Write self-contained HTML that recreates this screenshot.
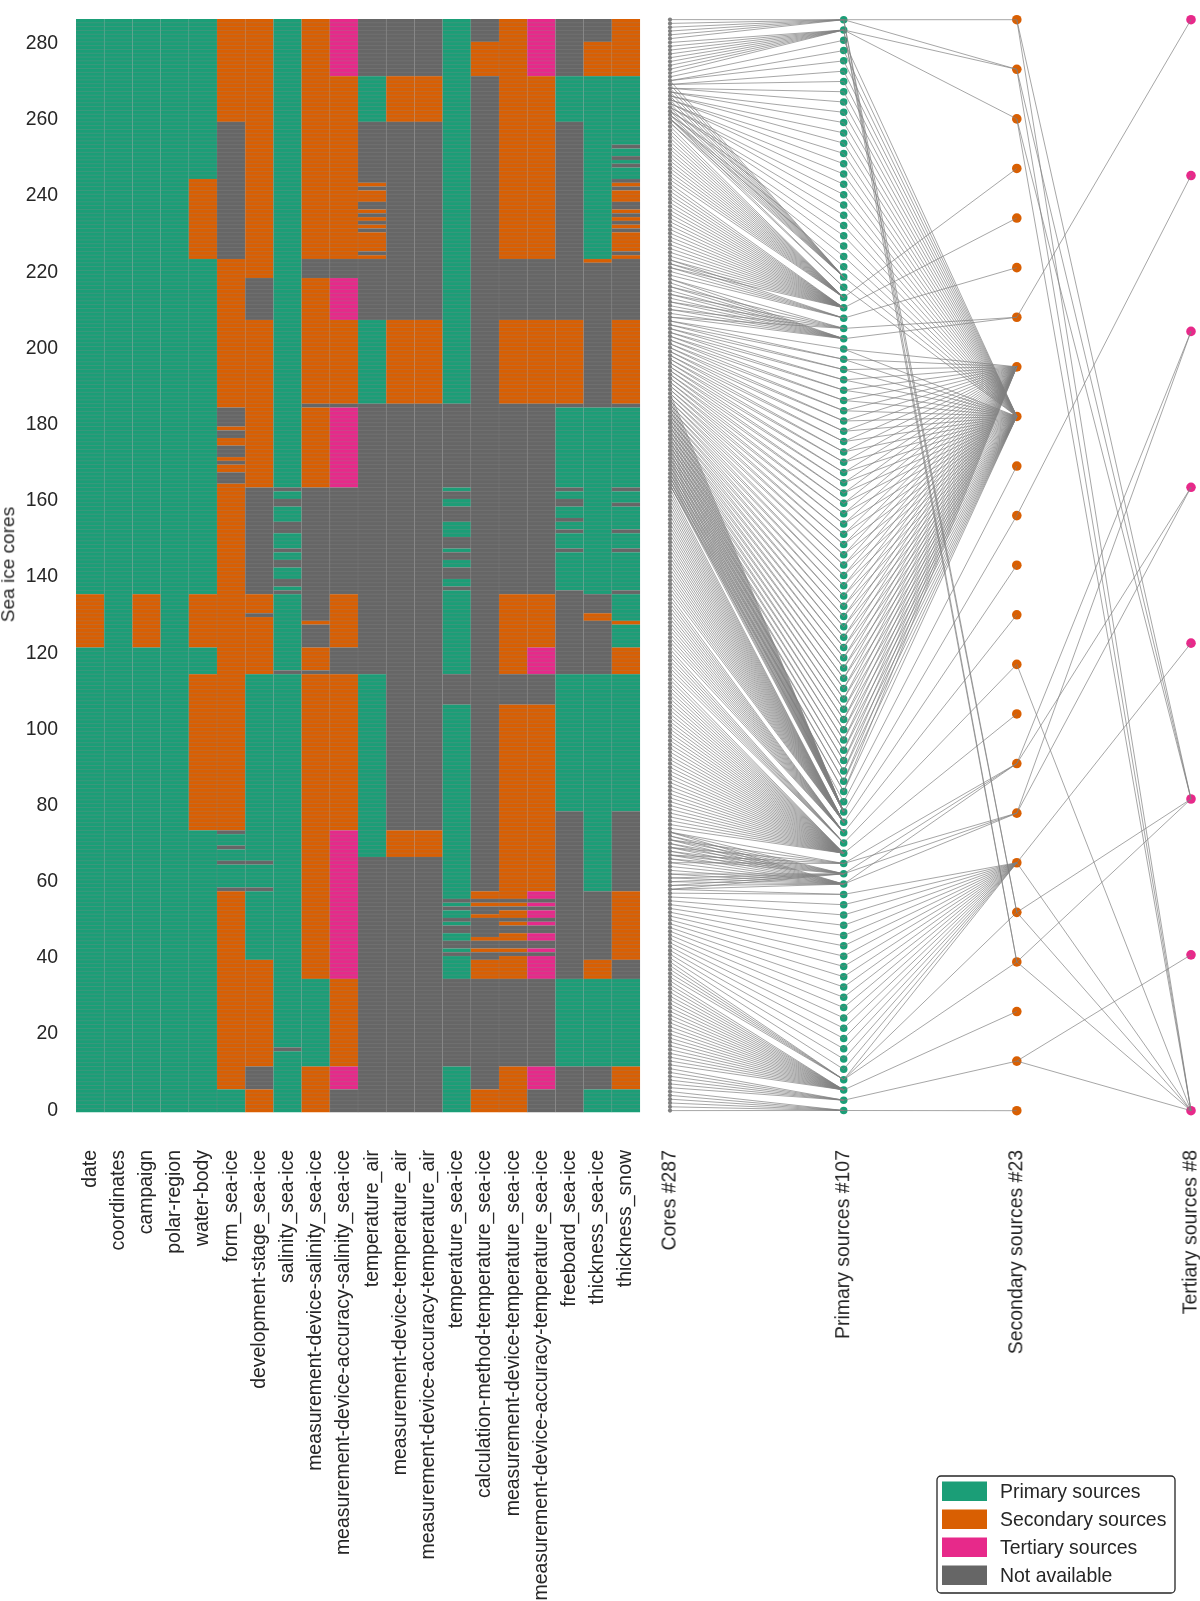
<!DOCTYPE html>
<html><head><meta charset="utf-8"><title>Sea ice cores sources</title>
<style>
html,body{margin:0;padding:0;background:#fff;}
svg{display:block;}
text{font-family:"Liberation Sans",sans-serif;fill:#262626;}
</style></head><body>
<svg width="1200" height="1601" viewBox="0 0 1200 1601">
<rect width="1200" height="1601" fill="#fff"/>
<g>
<rect x="76" y="19" width="28.25" height="575.22" fill="#1b9e77"/>
<rect x="76" y="594.17" width="28.25" height="53.38" fill="#d95f02"/>
<rect x="76" y="647.49" width="28.25" height="464.76" fill="#1b9e77"/>
<rect x="104.2" y="19" width="28.25" height="1093.25" fill="#1b9e77"/>
<rect x="132.4" y="19" width="28.25" height="575.22" fill="#1b9e77"/>
<rect x="132.4" y="594.17" width="28.25" height="53.38" fill="#d95f02"/>
<rect x="132.4" y="647.49" width="28.25" height="464.76" fill="#1b9e77"/>
<rect x="160.6" y="19" width="28.25" height="1093.25" fill="#1b9e77"/>
<rect x="188.8" y="19" width="28.25" height="160.03" fill="#1b9e77"/>
<rect x="188.8" y="178.98" width="28.25" height="80.04" fill="#d95f02"/>
<rect x="188.8" y="258.97" width="28.25" height="335.25" fill="#1b9e77"/>
<rect x="188.8" y="594.17" width="28.25" height="53.38" fill="#d95f02"/>
<rect x="188.8" y="647.49" width="28.25" height="26.71" fill="#1b9e77"/>
<rect x="188.8" y="674.16" width="28.25" height="156.22" fill="#d95f02"/>
<rect x="188.8" y="830.33" width="28.25" height="281.92" fill="#1b9e77"/>
<rect x="217" y="19" width="28.25" height="102.89" fill="#d95f02"/>
<rect x="217" y="121.84" width="28.25" height="137.18" fill="#666666"/>
<rect x="217" y="258.97" width="28.25" height="148.6" fill="#d95f02"/>
<rect x="217" y="407.52" width="28.25" height="19.1" fill="#666666"/>
<rect x="217" y="426.57" width="28.25" height="3.86" fill="#d95f02"/>
<rect x="217" y="430.38" width="28.25" height="7.67" fill="#666666"/>
<rect x="217" y="438" width="28.25" height="7.67" fill="#d95f02"/>
<rect x="217" y="445.61" width="28.25" height="11.48" fill="#666666"/>
<rect x="217" y="457.04" width="28.25" height="3.86" fill="#d95f02"/>
<rect x="217" y="460.85" width="28.25" height="3.86" fill="#666666"/>
<rect x="217" y="464.66" width="28.25" height="7.67" fill="#d95f02"/>
<rect x="217" y="472.28" width="28.25" height="11.48" fill="#666666"/>
<rect x="217" y="483.71" width="28.25" height="346.67" fill="#d95f02"/>
<rect x="217" y="830.33" width="28.25" height="3.86" fill="#666666"/>
<rect x="217" y="834.14" width="28.25" height="11.48" fill="#1b9e77"/>
<rect x="217" y="845.57" width="28.25" height="3.86" fill="#666666"/>
<rect x="217" y="849.37" width="28.25" height="11.48" fill="#1b9e77"/>
<rect x="217" y="860.8" width="28.25" height="3.86" fill="#666666"/>
<rect x="217" y="864.61" width="28.25" height="22.9" fill="#1b9e77"/>
<rect x="217" y="887.47" width="28.25" height="3.86" fill="#666666"/>
<rect x="217" y="891.27" width="28.25" height="198.12" fill="#d95f02"/>
<rect x="217" y="1089.35" width="28.25" height="22.9" fill="#1b9e77"/>
<rect x="245.2" y="19" width="28.25" height="259.07" fill="#d95f02"/>
<rect x="245.2" y="278.02" width="28.25" height="41.95" fill="#666666"/>
<rect x="245.2" y="319.92" width="28.25" height="167.65" fill="#d95f02"/>
<rect x="245.2" y="487.51" width="28.25" height="106.7" fill="#666666"/>
<rect x="245.2" y="594.17" width="28.25" height="19.1" fill="#d95f02"/>
<rect x="245.2" y="613.21" width="28.25" height="3.86" fill="#666666"/>
<rect x="245.2" y="617.02" width="28.25" height="57.19" fill="#d95f02"/>
<rect x="245.2" y="674.16" width="28.25" height="186.69" fill="#1b9e77"/>
<rect x="245.2" y="860.8" width="28.25" height="3.86" fill="#666666"/>
<rect x="245.2" y="864.61" width="28.25" height="22.9" fill="#1b9e77"/>
<rect x="245.2" y="887.47" width="28.25" height="3.86" fill="#666666"/>
<rect x="245.2" y="891.27" width="28.25" height="68.61" fill="#1b9e77"/>
<rect x="245.2" y="959.84" width="28.25" height="106.7" fill="#d95f02"/>
<rect x="245.2" y="1066.49" width="28.25" height="22.9" fill="#666666"/>
<rect x="245.2" y="1089.35" width="28.25" height="22.9" fill="#d95f02"/>
<rect x="273.4" y="19" width="28.25" height="468.56" fill="#1b9e77"/>
<rect x="273.4" y="487.51" width="28.25" height="3.86" fill="#666666"/>
<rect x="273.4" y="491.32" width="28.25" height="7.67" fill="#1b9e77"/>
<rect x="273.4" y="498.94" width="28.25" height="7.67" fill="#666666"/>
<rect x="273.4" y="506.56" width="28.25" height="15.29" fill="#1b9e77"/>
<rect x="273.4" y="521.8" width="28.25" height="11.48" fill="#666666"/>
<rect x="273.4" y="533.22" width="28.25" height="15.29" fill="#1b9e77"/>
<rect x="273.4" y="548.46" width="28.25" height="3.86" fill="#666666"/>
<rect x="273.4" y="552.27" width="28.25" height="7.67" fill="#1b9e77"/>
<rect x="273.4" y="559.89" width="28.25" height="7.67" fill="#666666"/>
<rect x="273.4" y="567.5" width="28.25" height="11.48" fill="#1b9e77"/>
<rect x="273.4" y="578.93" width="28.25" height="7.67" fill="#666666"/>
<rect x="273.4" y="586.55" width="28.25" height="3.86" fill="#1b9e77"/>
<rect x="273.4" y="590.36" width="28.25" height="3.86" fill="#666666"/>
<rect x="273.4" y="594.17" width="28.25" height="76.23" fill="#1b9e77"/>
<rect x="273.4" y="670.35" width="28.25" height="3.86" fill="#666666"/>
<rect x="273.4" y="674.16" width="28.25" height="373.34" fill="#1b9e77"/>
<rect x="273.4" y="1047.45" width="28.25" height="3.86" fill="#666666"/>
<rect x="273.4" y="1051.26" width="28.25" height="60.99" fill="#1b9e77"/>
<rect x="301.6" y="19" width="28.25" height="240.02" fill="#d95f02"/>
<rect x="301.6" y="258.97" width="28.25" height="19.1" fill="#666666"/>
<rect x="301.6" y="278.02" width="28.25" height="125.75" fill="#d95f02"/>
<rect x="301.6" y="403.71" width="28.25" height="3.86" fill="#666666"/>
<rect x="301.6" y="407.52" width="28.25" height="80.04" fill="#d95f02"/>
<rect x="301.6" y="487.51" width="28.25" height="133.37" fill="#666666"/>
<rect x="301.6" y="620.83" width="28.25" height="3.86" fill="#d95f02"/>
<rect x="301.6" y="624.64" width="28.25" height="22.9" fill="#666666"/>
<rect x="301.6" y="647.49" width="28.25" height="22.9" fill="#d95f02"/>
<rect x="301.6" y="670.35" width="28.25" height="3.86" fill="#666666"/>
<rect x="301.6" y="674.16" width="28.25" height="304.77" fill="#d95f02"/>
<rect x="301.6" y="978.88" width="28.25" height="87.66" fill="#1b9e77"/>
<rect x="301.6" y="1066.49" width="28.25" height="45.76" fill="#d95f02"/>
<rect x="329.8" y="19" width="28.25" height="57.19" fill="#e7298a"/>
<rect x="329.8" y="76.14" width="28.25" height="182.88" fill="#d95f02"/>
<rect x="329.8" y="258.97" width="28.25" height="19.1" fill="#666666"/>
<rect x="329.8" y="278.02" width="28.25" height="41.95" fill="#e7298a"/>
<rect x="329.8" y="319.92" width="28.25" height="83.85" fill="#d95f02"/>
<rect x="329.8" y="403.71" width="28.25" height="3.86" fill="#666666"/>
<rect x="329.8" y="407.52" width="28.25" height="80.04" fill="#e7298a"/>
<rect x="329.8" y="487.51" width="28.25" height="106.7" fill="#666666"/>
<rect x="329.8" y="594.17" width="28.25" height="53.38" fill="#d95f02"/>
<rect x="329.8" y="647.49" width="28.25" height="26.71" fill="#666666"/>
<rect x="329.8" y="674.16" width="28.25" height="156.22" fill="#d95f02"/>
<rect x="329.8" y="830.33" width="28.25" height="148.6" fill="#e7298a"/>
<rect x="329.8" y="978.88" width="28.25" height="87.66" fill="#d95f02"/>
<rect x="329.8" y="1066.49" width="28.25" height="22.9" fill="#e7298a"/>
<rect x="329.8" y="1089.35" width="28.25" height="22.9" fill="#666666"/>
<rect x="358" y="19" width="28.25" height="57.19" fill="#666666"/>
<rect x="358" y="76.14" width="28.25" height="45.76" fill="#1b9e77"/>
<rect x="358" y="121.84" width="28.25" height="60.99" fill="#666666"/>
<rect x="358" y="182.79" width="28.25" height="3.86" fill="#d95f02"/>
<rect x="358" y="186.6" width="28.25" height="3.86" fill="#666666"/>
<rect x="358" y="190.41" width="28.25" height="11.48" fill="#d95f02"/>
<rect x="358" y="201.83" width="28.25" height="7.67" fill="#666666"/>
<rect x="358" y="209.45" width="28.25" height="3.86" fill="#d95f02"/>
<rect x="358" y="213.26" width="28.25" height="3.86" fill="#666666"/>
<rect x="358" y="217.07" width="28.25" height="3.86" fill="#d95f02"/>
<rect x="358" y="220.88" width="28.25" height="3.86" fill="#666666"/>
<rect x="358" y="224.69" width="28.25" height="3.86" fill="#d95f02"/>
<rect x="358" y="228.5" width="28.25" height="3.86" fill="#666666"/>
<rect x="358" y="232.31" width="28.25" height="19.1" fill="#d95f02"/>
<rect x="358" y="251.35" width="28.25" height="3.86" fill="#666666"/>
<rect x="358" y="255.16" width="28.25" height="3.86" fill="#d95f02"/>
<rect x="358" y="258.97" width="28.25" height="60.99" fill="#666666"/>
<rect x="358" y="319.92" width="28.25" height="83.85" fill="#1b9e77"/>
<rect x="358" y="403.71" width="28.25" height="270.49" fill="#666666"/>
<rect x="358" y="674.16" width="28.25" height="182.88" fill="#1b9e77"/>
<rect x="358" y="856.99" width="28.25" height="255.26" fill="#666666"/>
<rect x="386.2" y="19" width="28.25" height="57.19" fill="#666666"/>
<rect x="386.2" y="76.14" width="28.25" height="45.76" fill="#d95f02"/>
<rect x="386.2" y="121.84" width="28.25" height="198.12" fill="#666666"/>
<rect x="386.2" y="319.92" width="28.25" height="83.85" fill="#d95f02"/>
<rect x="386.2" y="403.71" width="28.25" height="426.66" fill="#666666"/>
<rect x="386.2" y="830.33" width="28.25" height="26.71" fill="#d95f02"/>
<rect x="386.2" y="856.99" width="28.25" height="255.26" fill="#666666"/>
<rect x="414.4" y="19" width="28.25" height="57.19" fill="#666666"/>
<rect x="414.4" y="76.14" width="28.25" height="45.76" fill="#d95f02"/>
<rect x="414.4" y="121.84" width="28.25" height="198.12" fill="#666666"/>
<rect x="414.4" y="319.92" width="28.25" height="83.85" fill="#d95f02"/>
<rect x="414.4" y="403.71" width="28.25" height="426.66" fill="#666666"/>
<rect x="414.4" y="830.33" width="28.25" height="26.71" fill="#d95f02"/>
<rect x="414.4" y="856.99" width="28.25" height="255.26" fill="#666666"/>
<rect x="442.6" y="19" width="28.25" height="384.76" fill="#1b9e77"/>
<rect x="442.6" y="403.71" width="28.25" height="83.85" fill="#666666"/>
<rect x="442.6" y="487.51" width="28.25" height="3.86" fill="#1b9e77"/>
<rect x="442.6" y="491.32" width="28.25" height="7.67" fill="#666666"/>
<rect x="442.6" y="498.94" width="28.25" height="7.67" fill="#1b9e77"/>
<rect x="442.6" y="506.56" width="28.25" height="15.29" fill="#666666"/>
<rect x="442.6" y="521.8" width="28.25" height="15.29" fill="#1b9e77"/>
<rect x="442.6" y="537.03" width="28.25" height="11.48" fill="#666666"/>
<rect x="442.6" y="548.46" width="28.25" height="3.86" fill="#1b9e77"/>
<rect x="442.6" y="552.27" width="28.25" height="7.67" fill="#666666"/>
<rect x="442.6" y="559.89" width="28.25" height="7.67" fill="#1b9e77"/>
<rect x="442.6" y="567.5" width="28.25" height="11.48" fill="#666666"/>
<rect x="442.6" y="578.93" width="28.25" height="7.67" fill="#1b9e77"/>
<rect x="442.6" y="586.55" width="28.25" height="3.86" fill="#666666"/>
<rect x="442.6" y="590.36" width="28.25" height="83.85" fill="#1b9e77"/>
<rect x="442.6" y="674.16" width="28.25" height="30.52" fill="#666666"/>
<rect x="442.6" y="704.63" width="28.25" height="194.31" fill="#1b9e77"/>
<rect x="442.6" y="898.89" width="28.25" height="3.86" fill="#666666"/>
<rect x="442.6" y="902.7" width="28.25" height="3.86" fill="#1b9e77"/>
<rect x="442.6" y="906.51" width="28.25" height="3.86" fill="#666666"/>
<rect x="442.6" y="910.32" width="28.25" height="7.67" fill="#1b9e77"/>
<rect x="442.6" y="917.94" width="28.25" height="3.86" fill="#666666"/>
<rect x="442.6" y="921.75" width="28.25" height="3.86" fill="#1b9e77"/>
<rect x="442.6" y="925.56" width="28.25" height="7.67" fill="#666666"/>
<rect x="442.6" y="933.17" width="28.25" height="7.67" fill="#1b9e77"/>
<rect x="442.6" y="940.79" width="28.25" height="7.67" fill="#666666"/>
<rect x="442.6" y="948.41" width="28.25" height="3.86" fill="#1b9e77"/>
<rect x="442.6" y="952.22" width="28.25" height="3.86" fill="#666666"/>
<rect x="442.6" y="956.03" width="28.25" height="22.9" fill="#1b9e77"/>
<rect x="442.6" y="978.88" width="28.25" height="87.66" fill="#666666"/>
<rect x="442.6" y="1066.49" width="28.25" height="45.76" fill="#1b9e77"/>
<rect x="470.8" y="19" width="28.25" height="22.9" fill="#666666"/>
<rect x="470.8" y="41.85" width="28.25" height="34.33" fill="#d95f02"/>
<rect x="470.8" y="76.14" width="28.25" height="815.19" fill="#666666"/>
<rect x="470.8" y="891.27" width="28.25" height="7.67" fill="#d95f02"/>
<rect x="470.8" y="898.89" width="28.25" height="3.86" fill="#666666"/>
<rect x="470.8" y="902.7" width="28.25" height="3.86" fill="#d95f02"/>
<rect x="470.8" y="906.51" width="28.25" height="7.67" fill="#666666"/>
<rect x="470.8" y="914.13" width="28.25" height="3.86" fill="#d95f02"/>
<rect x="470.8" y="917.94" width="28.25" height="19.1" fill="#666666"/>
<rect x="470.8" y="936.98" width="28.25" height="3.86" fill="#d95f02"/>
<rect x="470.8" y="940.79" width="28.25" height="7.67" fill="#666666"/>
<rect x="470.8" y="948.41" width="28.25" height="3.86" fill="#d95f02"/>
<rect x="470.8" y="952.22" width="28.25" height="7.67" fill="#666666"/>
<rect x="470.8" y="959.84" width="28.25" height="19.1" fill="#d95f02"/>
<rect x="470.8" y="978.88" width="28.25" height="110.51" fill="#666666"/>
<rect x="470.8" y="1089.35" width="28.25" height="22.9" fill="#d95f02"/>
<rect x="499" y="19" width="28.25" height="240.02" fill="#d95f02"/>
<rect x="499" y="258.97" width="28.25" height="60.99" fill="#666666"/>
<rect x="499" y="319.92" width="28.25" height="83.85" fill="#d95f02"/>
<rect x="499" y="403.71" width="28.25" height="190.5" fill="#666666"/>
<rect x="499" y="594.17" width="28.25" height="80.04" fill="#d95f02"/>
<rect x="499" y="674.16" width="28.25" height="30.52" fill="#666666"/>
<rect x="499" y="704.63" width="28.25" height="194.31" fill="#d95f02"/>
<rect x="499" y="898.89" width="28.25" height="3.86" fill="#666666"/>
<rect x="499" y="902.7" width="28.25" height="3.86" fill="#d95f02"/>
<rect x="499" y="906.51" width="28.25" height="3.86" fill="#666666"/>
<rect x="499" y="910.32" width="28.25" height="7.67" fill="#d95f02"/>
<rect x="499" y="917.94" width="28.25" height="3.86" fill="#666666"/>
<rect x="499" y="921.75" width="28.25" height="3.86" fill="#d95f02"/>
<rect x="499" y="925.56" width="28.25" height="7.67" fill="#666666"/>
<rect x="499" y="933.17" width="28.25" height="7.67" fill="#d95f02"/>
<rect x="499" y="940.79" width="28.25" height="7.67" fill="#666666"/>
<rect x="499" y="948.41" width="28.25" height="3.86" fill="#d95f02"/>
<rect x="499" y="952.22" width="28.25" height="3.86" fill="#666666"/>
<rect x="499" y="956.03" width="28.25" height="22.9" fill="#d95f02"/>
<rect x="499" y="978.88" width="28.25" height="87.66" fill="#666666"/>
<rect x="499" y="1066.49" width="28.25" height="45.76" fill="#d95f02"/>
<rect x="527.2" y="19" width="28.25" height="57.19" fill="#e7298a"/>
<rect x="527.2" y="76.14" width="28.25" height="182.88" fill="#d95f02"/>
<rect x="527.2" y="258.97" width="28.25" height="60.99" fill="#666666"/>
<rect x="527.2" y="319.92" width="28.25" height="83.85" fill="#d95f02"/>
<rect x="527.2" y="403.71" width="28.25" height="190.5" fill="#666666"/>
<rect x="527.2" y="594.17" width="28.25" height="53.38" fill="#d95f02"/>
<rect x="527.2" y="647.49" width="28.25" height="26.71" fill="#e7298a"/>
<rect x="527.2" y="674.16" width="28.25" height="30.52" fill="#666666"/>
<rect x="527.2" y="704.63" width="28.25" height="186.69" fill="#d95f02"/>
<rect x="527.2" y="891.27" width="28.25" height="7.67" fill="#e7298a"/>
<rect x="527.2" y="898.89" width="28.25" height="3.86" fill="#666666"/>
<rect x="527.2" y="902.7" width="28.25" height="3.86" fill="#e7298a"/>
<rect x="527.2" y="906.51" width="28.25" height="3.86" fill="#666666"/>
<rect x="527.2" y="910.32" width="28.25" height="7.67" fill="#e7298a"/>
<rect x="527.2" y="917.94" width="28.25" height="3.86" fill="#666666"/>
<rect x="527.2" y="921.75" width="28.25" height="3.86" fill="#e7298a"/>
<rect x="527.2" y="925.56" width="28.25" height="7.67" fill="#666666"/>
<rect x="527.2" y="933.17" width="28.25" height="7.67" fill="#e7298a"/>
<rect x="527.2" y="940.79" width="28.25" height="7.67" fill="#666666"/>
<rect x="527.2" y="948.41" width="28.25" height="3.86" fill="#e7298a"/>
<rect x="527.2" y="952.22" width="28.25" height="3.86" fill="#666666"/>
<rect x="527.2" y="956.03" width="28.25" height="22.9" fill="#e7298a"/>
<rect x="527.2" y="978.88" width="28.25" height="87.66" fill="#666666"/>
<rect x="527.2" y="1066.49" width="28.25" height="22.9" fill="#e7298a"/>
<rect x="527.2" y="1089.35" width="28.25" height="22.9" fill="#666666"/>
<rect x="555.4" y="19" width="28.25" height="57.19" fill="#666666"/>
<rect x="555.4" y="76.14" width="28.25" height="45.76" fill="#1b9e77"/>
<rect x="555.4" y="121.84" width="28.25" height="198.12" fill="#666666"/>
<rect x="555.4" y="319.92" width="28.25" height="83.85" fill="#d95f02"/>
<rect x="555.4" y="403.71" width="28.25" height="3.86" fill="#666666"/>
<rect x="555.4" y="407.52" width="28.25" height="80.04" fill="#1b9e77"/>
<rect x="555.4" y="487.51" width="28.25" height="3.86" fill="#666666"/>
<rect x="555.4" y="491.32" width="28.25" height="7.67" fill="#1b9e77"/>
<rect x="555.4" y="498.94" width="28.25" height="7.67" fill="#666666"/>
<rect x="555.4" y="506.56" width="28.25" height="11.48" fill="#1b9e77"/>
<rect x="555.4" y="517.99" width="28.25" height="3.86" fill="#666666"/>
<rect x="555.4" y="521.8" width="28.25" height="7.67" fill="#1b9e77"/>
<rect x="555.4" y="529.41" width="28.25" height="3.86" fill="#666666"/>
<rect x="555.4" y="533.22" width="28.25" height="15.29" fill="#1b9e77"/>
<rect x="555.4" y="548.46" width="28.25" height="3.86" fill="#666666"/>
<rect x="555.4" y="552.27" width="28.25" height="38.14" fill="#1b9e77"/>
<rect x="555.4" y="590.36" width="28.25" height="83.85" fill="#666666"/>
<rect x="555.4" y="674.16" width="28.25" height="137.18" fill="#1b9e77"/>
<rect x="555.4" y="811.28" width="28.25" height="167.65" fill="#666666"/>
<rect x="555.4" y="978.88" width="28.25" height="87.66" fill="#1b9e77"/>
<rect x="555.4" y="1066.49" width="28.25" height="45.76" fill="#666666"/>
<rect x="583.6" y="19" width="28.25" height="22.9" fill="#666666"/>
<rect x="583.6" y="41.85" width="28.25" height="34.33" fill="#d95f02"/>
<rect x="583.6" y="76.14" width="28.25" height="182.88" fill="#1b9e77"/>
<rect x="583.6" y="258.97" width="28.25" height="3.86" fill="#d95f02"/>
<rect x="583.6" y="262.78" width="28.25" height="144.79" fill="#666666"/>
<rect x="583.6" y="407.52" width="28.25" height="186.69" fill="#1b9e77"/>
<rect x="583.6" y="594.17" width="28.25" height="19.1" fill="#666666"/>
<rect x="583.6" y="613.21" width="28.25" height="7.67" fill="#d95f02"/>
<rect x="583.6" y="620.83" width="28.25" height="53.38" fill="#666666"/>
<rect x="583.6" y="674.16" width="28.25" height="217.17" fill="#1b9e77"/>
<rect x="583.6" y="891.27" width="28.25" height="68.61" fill="#666666"/>
<rect x="583.6" y="959.84" width="28.25" height="19.1" fill="#d95f02"/>
<rect x="583.6" y="978.88" width="28.25" height="87.66" fill="#1b9e77"/>
<rect x="583.6" y="1066.49" width="28.25" height="22.9" fill="#666666"/>
<rect x="583.6" y="1089.35" width="28.25" height="22.9" fill="#1b9e77"/>
<rect x="611.8" y="19" width="28.25" height="57.19" fill="#d95f02"/>
<rect x="611.8" y="76.14" width="28.25" height="68.61" fill="#1b9e77"/>
<rect x="611.8" y="144.7" width="28.25" height="3.86" fill="#666666"/>
<rect x="611.8" y="148.51" width="28.25" height="7.67" fill="#1b9e77"/>
<rect x="611.8" y="156.13" width="28.25" height="3.86" fill="#666666"/>
<rect x="611.8" y="159.94" width="28.25" height="3.86" fill="#1b9e77"/>
<rect x="611.8" y="163.74" width="28.25" height="3.86" fill="#666666"/>
<rect x="611.8" y="167.55" width="28.25" height="11.48" fill="#1b9e77"/>
<rect x="611.8" y="178.98" width="28.25" height="3.86" fill="#666666"/>
<rect x="611.8" y="182.79" width="28.25" height="3.86" fill="#d95f02"/>
<rect x="611.8" y="186.6" width="28.25" height="3.86" fill="#666666"/>
<rect x="611.8" y="190.41" width="28.25" height="11.48" fill="#d95f02"/>
<rect x="611.8" y="201.83" width="28.25" height="7.67" fill="#666666"/>
<rect x="611.8" y="209.45" width="28.25" height="3.86" fill="#d95f02"/>
<rect x="611.8" y="213.26" width="28.25" height="3.86" fill="#666666"/>
<rect x="611.8" y="217.07" width="28.25" height="3.86" fill="#d95f02"/>
<rect x="611.8" y="220.88" width="28.25" height="3.86" fill="#666666"/>
<rect x="611.8" y="224.69" width="28.25" height="3.86" fill="#d95f02"/>
<rect x="611.8" y="228.5" width="28.25" height="3.86" fill="#666666"/>
<rect x="611.8" y="232.31" width="28.25" height="19.1" fill="#d95f02"/>
<rect x="611.8" y="251.35" width="28.25" height="3.86" fill="#666666"/>
<rect x="611.8" y="255.16" width="28.25" height="3.86" fill="#d95f02"/>
<rect x="611.8" y="258.97" width="28.25" height="60.99" fill="#666666"/>
<rect x="611.8" y="319.92" width="28.25" height="83.85" fill="#d95f02"/>
<rect x="611.8" y="403.71" width="28.25" height="3.86" fill="#666666"/>
<rect x="611.8" y="407.52" width="28.25" height="80.04" fill="#1b9e77"/>
<rect x="611.8" y="487.51" width="28.25" height="3.86" fill="#666666"/>
<rect x="611.8" y="491.32" width="28.25" height="11.48" fill="#1b9e77"/>
<rect x="611.8" y="502.75" width="28.25" height="3.86" fill="#666666"/>
<rect x="611.8" y="506.56" width="28.25" height="22.9" fill="#1b9e77"/>
<rect x="611.8" y="529.41" width="28.25" height="3.86" fill="#666666"/>
<rect x="611.8" y="533.22" width="28.25" height="15.29" fill="#1b9e77"/>
<rect x="611.8" y="548.46" width="28.25" height="3.86" fill="#666666"/>
<rect x="611.8" y="552.27" width="28.25" height="38.14" fill="#1b9e77"/>
<rect x="611.8" y="590.36" width="28.25" height="3.86" fill="#666666"/>
<rect x="611.8" y="594.17" width="28.25" height="26.71" fill="#1b9e77"/>
<rect x="611.8" y="620.83" width="28.25" height="3.86" fill="#d95f02"/>
<rect x="611.8" y="624.64" width="28.25" height="22.9" fill="#1b9e77"/>
<rect x="611.8" y="647.49" width="28.25" height="26.71" fill="#d95f02"/>
<rect x="611.8" y="674.16" width="28.25" height="137.18" fill="#1b9e77"/>
<rect x="611.8" y="811.28" width="28.25" height="80.04" fill="#666666"/>
<rect x="611.8" y="891.27" width="28.25" height="68.61" fill="#d95f02"/>
<rect x="611.8" y="959.84" width="28.25" height="19.1" fill="#666666"/>
<rect x="611.8" y="978.88" width="28.25" height="87.66" fill="#1b9e77"/>
<rect x="611.8" y="1066.49" width="28.25" height="22.9" fill="#d95f02"/>
<rect x="611.8" y="1089.35" width="28.25" height="22.9" fill="#1b9e77"/>
<path d="M76 22.81H640M76 26.62H640M76 30.43H640M76 34.24H640M76 38.05H640M76 41.85H640M76 45.66H640M76 49.47H640M76 53.28H640M76 57.09H640M76 60.9H640M76 64.71H640M76 68.52H640M76 72.33H640M76 76.14H640M76 79.94H640M76 83.75H640M76 87.56H640M76 91.37H640M76 95.18H640M76 98.99H640M76 102.8H640M76 106.61H640M76 110.42H640M76 114.23H640M76 118.04H640M76 121.84H640M76 125.65H640M76 129.46H640M76 133.27H640M76 137.08H640M76 140.89H640M76 144.7H640M76 148.51H640M76 152.32H640M76 156.13H640M76 159.94H640M76 163.74H640M76 167.55H640M76 171.36H640M76 175.17H640M76 178.98H640M76 182.79H640M76 186.6H640M76 190.41H640M76 194.22H640M76 198.03H640M76 201.83H640M76 205.64H640M76 209.45H640M76 213.26H640M76 217.07H640M76 220.88H640M76 224.69H640M76 228.5H640M76 232.31H640M76 236.12H640M76 239.93H640M76 243.73H640M76 247.54H640M76 251.35H640M76 255.16H640M76 258.97H640M76 262.78H640M76 266.59H640M76 270.4H640M76 274.21H640M76 278.02H640M76 281.83H640M76 285.63H640M76 289.44H640M76 293.25H640M76 297.06H640M76 300.87H640M76 304.68H640M76 308.49H640M76 312.3H640M76 316.11H640M76 319.92H640M76 323.72H640M76 327.53H640M76 331.34H640M76 335.15H640M76 338.96H640M76 342.77H640M76 346.58H640M76 350.39H640M76 354.2H640M76 358.01H640M76 361.82H640M76 365.62H640M76 369.43H640M76 373.24H640M76 377.05H640M76 380.86H640M76 384.67H640M76 388.48H640M76 392.29H640M76 396.1H640M76 399.91H640M76 403.71H640M76 407.52H640M76 411.33H640M76 415.14H640M76 418.95H640M76 422.76H640M76 426.57H640M76 430.38H640M76 434.19H640M76 438H640M76 441.81H640M76 445.61H640M76 449.42H640M76 453.23H640M76 457.04H640M76 460.85H640M76 464.66H640M76 468.47H640M76 472.28H640M76 476.09H640M76 479.9H640M76 483.71H640M76 487.51H640M76 491.32H640M76 495.13H640M76 498.94H640M76 502.75H640M76 506.56H640M76 510.37H640M76 514.18H640M76 517.99H640M76 521.8H640M76 525.6H640M76 529.41H640M76 533.22H640M76 537.03H640M76 540.84H640M76 544.65H640M76 548.46H640M76 552.27H640M76 556.08H640M76 559.89H640M76 563.7H640M76 567.5H640M76 571.31H640M76 575.12H640M76 578.93H640M76 582.74H640M76 586.55H640M76 590.36H640M76 594.17H640M76 597.98H640M76 601.79H640M76 605.6H640M76 609.4H640M76 613.21H640M76 617.02H640M76 620.83H640M76 624.64H640M76 628.45H640M76 632.26H640M76 636.07H640M76 639.88H640M76 643.69H640M76 647.49H640M76 651.3H640M76 655.11H640M76 658.92H640M76 662.73H640M76 666.54H640M76 670.35H640M76 674.16H640M76 677.97H640M76 681.78H640M76 685.59H640M76 689.39H640M76 693.2H640M76 697.01H640M76 700.82H640M76 704.63H640M76 708.44H640M76 712.25H640M76 716.06H640M76 719.87H640M76 723.68H640M76 727.49H640M76 731.29H640M76 735.1H640M76 738.91H640M76 742.72H640M76 746.53H640M76 750.34H640M76 754.15H640M76 757.96H640M76 761.77H640M76 765.58H640M76 769.38H640M76 773.19H640M76 777H640M76 780.81H640M76 784.62H640M76 788.43H640M76 792.24H640M76 796.05H640M76 799.86H640M76 803.67H640M76 807.48H640M76 811.28H640M76 815.09H640M76 818.9H640M76 822.71H640M76 826.52H640M76 830.33H640M76 834.14H640M76 837.95H640M76 841.76H640M76 845.57H640M76 849.37H640M76 853.18H640M76 856.99H640M76 860.8H640M76 864.61H640M76 868.42H640M76 872.23H640M76 876.04H640M76 879.85H640M76 883.66H640M76 887.47H640M76 891.27H640M76 895.08H640M76 898.89H640M76 902.7H640M76 906.51H640M76 910.32H640M76 914.13H640M76 917.94H640M76 921.75H640M76 925.56H640M76 929.37H640M76 933.17H640M76 936.98H640M76 940.79H640M76 944.6H640M76 948.41H640M76 952.22H640M76 956.03H640M76 959.84H640M76 963.65H640M76 967.46H640M76 971.26H640M76 975.07H640M76 978.88H640M76 982.69H640M76 986.5H640M76 990.31H640M76 994.12H640M76 997.93H640M76 1001.74H640M76 1005.55H640M76 1009.36H640M76 1013.16H640M76 1016.97H640M76 1020.78H640M76 1024.59H640M76 1028.4H640M76 1032.21H640M76 1036.02H640M76 1039.83H640M76 1043.64H640M76 1047.45H640M76 1051.26H640M76 1055.06H640M76 1058.87H640M76 1062.68H640M76 1066.49H640M76 1070.3H640M76 1074.11H640M76 1077.92H640M76 1081.73H640M76 1085.54H640M76 1089.35H640M76 1093.15H640M76 1096.96H640M76 1100.77H640M76 1104.58H640M76 1108.39H640" stroke="#8a8a8a" stroke-width="0.32" fill="none"/>
<path d="M104.2 19V1112.2M132.4 19V1112.2M160.6 19V1112.2M188.8 19V1112.2M217 19V1112.2M245.2 19V1112.2M273.4 19V1112.2M301.6 19V1112.2M329.8 19V1112.2M358 19V1112.2M386.2 19V1112.2M414.4 19V1112.2M442.6 19V1112.2M470.8 19V1112.2M499 19V1112.2M527.2 19V1112.2M555.4 19V1112.2M583.6 19V1112.2M611.8 19V1112.2" stroke="#8a8a8a" stroke-width="0.22" fill="none"/>
</g>
<g>
<circle cx="670" cy="19.6" r="2.1" fill="#808080"/>
<circle cx="670" cy="23.41" r="2.1" fill="#808080"/>
<circle cx="670" cy="27.23" r="2.1" fill="#808080"/>
<circle cx="670" cy="31.04" r="2.1" fill="#808080"/>
<circle cx="670" cy="34.86" r="2.1" fill="#808080"/>
<circle cx="670" cy="38.67" r="2.1" fill="#808080"/>
<circle cx="670" cy="42.49" r="2.1" fill="#808080"/>
<circle cx="670" cy="46.3" r="2.1" fill="#808080"/>
<circle cx="670" cy="50.12" r="2.1" fill="#808080"/>
<circle cx="670" cy="53.93" r="2.1" fill="#808080"/>
<circle cx="670" cy="57.75" r="2.1" fill="#808080"/>
<circle cx="670" cy="61.56" r="2.1" fill="#808080"/>
<circle cx="670" cy="65.38" r="2.1" fill="#808080"/>
<circle cx="670" cy="69.19" r="2.1" fill="#808080"/>
<circle cx="670" cy="73.01" r="2.1" fill="#808080"/>
<circle cx="670" cy="76.82" r="2.1" fill="#808080"/>
<circle cx="670" cy="80.63" r="2.1" fill="#808080"/>
<circle cx="670" cy="84.45" r="2.1" fill="#808080"/>
<circle cx="670" cy="88.26" r="2.1" fill="#808080"/>
<circle cx="670" cy="92.08" r="2.1" fill="#808080"/>
<circle cx="670" cy="95.89" r="2.1" fill="#808080"/>
<circle cx="670" cy="99.71" r="2.1" fill="#808080"/>
<circle cx="670" cy="103.52" r="2.1" fill="#808080"/>
<circle cx="670" cy="107.34" r="2.1" fill="#808080"/>
<circle cx="670" cy="111.15" r="2.1" fill="#808080"/>
<circle cx="670" cy="114.97" r="2.1" fill="#808080"/>
<circle cx="670" cy="118.78" r="2.1" fill="#808080"/>
<circle cx="670" cy="122.6" r="2.1" fill="#808080"/>
<circle cx="670" cy="126.41" r="2.1" fill="#808080"/>
<circle cx="670" cy="130.23" r="2.1" fill="#808080"/>
<circle cx="670" cy="134.04" r="2.1" fill="#808080"/>
<circle cx="670" cy="137.86" r="2.1" fill="#808080"/>
<circle cx="670" cy="141.67" r="2.1" fill="#808080"/>
<circle cx="670" cy="145.48" r="2.1" fill="#808080"/>
<circle cx="670" cy="149.3" r="2.1" fill="#808080"/>
<circle cx="670" cy="153.11" r="2.1" fill="#808080"/>
<circle cx="670" cy="156.93" r="2.1" fill="#808080"/>
<circle cx="670" cy="160.74" r="2.1" fill="#808080"/>
<circle cx="670" cy="164.56" r="2.1" fill="#808080"/>
<circle cx="670" cy="168.37" r="2.1" fill="#808080"/>
<circle cx="670" cy="172.19" r="2.1" fill="#808080"/>
<circle cx="670" cy="176" r="2.1" fill="#808080"/>
<circle cx="670" cy="179.82" r="2.1" fill="#808080"/>
<circle cx="670" cy="183.63" r="2.1" fill="#808080"/>
<circle cx="670" cy="187.45" r="2.1" fill="#808080"/>
<circle cx="670" cy="191.26" r="2.1" fill="#808080"/>
<circle cx="670" cy="195.08" r="2.1" fill="#808080"/>
<circle cx="670" cy="198.89" r="2.1" fill="#808080"/>
<circle cx="670" cy="202.7" r="2.1" fill="#808080"/>
<circle cx="670" cy="206.52" r="2.1" fill="#808080"/>
<circle cx="670" cy="210.33" r="2.1" fill="#808080"/>
<circle cx="670" cy="214.15" r="2.1" fill="#808080"/>
<circle cx="670" cy="217.96" r="2.1" fill="#808080"/>
<circle cx="670" cy="221.78" r="2.1" fill="#808080"/>
<circle cx="670" cy="225.59" r="2.1" fill="#808080"/>
<circle cx="670" cy="229.41" r="2.1" fill="#808080"/>
<circle cx="670" cy="233.22" r="2.1" fill="#808080"/>
<circle cx="670" cy="237.04" r="2.1" fill="#808080"/>
<circle cx="670" cy="240.85" r="2.1" fill="#808080"/>
<circle cx="670" cy="244.67" r="2.1" fill="#808080"/>
<circle cx="670" cy="248.48" r="2.1" fill="#808080"/>
<circle cx="670" cy="252.3" r="2.1" fill="#808080"/>
<circle cx="670" cy="256.11" r="2.1" fill="#808080"/>
<circle cx="670" cy="259.93" r="2.1" fill="#808080"/>
<circle cx="670" cy="263.74" r="2.1" fill="#808080"/>
<circle cx="670" cy="267.55" r="2.1" fill="#808080"/>
<circle cx="670" cy="271.37" r="2.1" fill="#808080"/>
<circle cx="670" cy="275.18" r="2.1" fill="#808080"/>
<circle cx="670" cy="279" r="2.1" fill="#808080"/>
<circle cx="670" cy="282.81" r="2.1" fill="#808080"/>
<circle cx="670" cy="286.63" r="2.1" fill="#808080"/>
<circle cx="670" cy="290.44" r="2.1" fill="#808080"/>
<circle cx="670" cy="294.26" r="2.1" fill="#808080"/>
<circle cx="670" cy="298.07" r="2.1" fill="#808080"/>
<circle cx="670" cy="301.89" r="2.1" fill="#808080"/>
<circle cx="670" cy="305.7" r="2.1" fill="#808080"/>
<circle cx="670" cy="309.52" r="2.1" fill="#808080"/>
<circle cx="670" cy="313.33" r="2.1" fill="#808080"/>
<circle cx="670" cy="317.15" r="2.1" fill="#808080"/>
<circle cx="670" cy="320.96" r="2.1" fill="#808080"/>
<circle cx="670" cy="324.77" r="2.1" fill="#808080"/>
<circle cx="670" cy="328.59" r="2.1" fill="#808080"/>
<circle cx="670" cy="332.4" r="2.1" fill="#808080"/>
<circle cx="670" cy="336.22" r="2.1" fill="#808080"/>
<circle cx="670" cy="340.03" r="2.1" fill="#808080"/>
<circle cx="670" cy="343.85" r="2.1" fill="#808080"/>
<circle cx="670" cy="347.66" r="2.1" fill="#808080"/>
<circle cx="670" cy="351.48" r="2.1" fill="#808080"/>
<circle cx="670" cy="355.29" r="2.1" fill="#808080"/>
<circle cx="670" cy="359.11" r="2.1" fill="#808080"/>
<circle cx="670" cy="362.92" r="2.1" fill="#808080"/>
<circle cx="670" cy="366.74" r="2.1" fill="#808080"/>
<circle cx="670" cy="370.55" r="2.1" fill="#808080"/>
<circle cx="670" cy="374.37" r="2.1" fill="#808080"/>
<circle cx="670" cy="378.18" r="2.1" fill="#808080"/>
<circle cx="670" cy="382" r="2.1" fill="#808080"/>
<circle cx="670" cy="385.81" r="2.1" fill="#808080"/>
<circle cx="670" cy="389.62" r="2.1" fill="#808080"/>
<circle cx="670" cy="393.44" r="2.1" fill="#808080"/>
<circle cx="670" cy="397.25" r="2.1" fill="#808080"/>
<circle cx="670" cy="401.07" r="2.1" fill="#808080"/>
<circle cx="670" cy="404.88" r="2.1" fill="#808080"/>
<circle cx="670" cy="408.7" r="2.1" fill="#808080"/>
<circle cx="670" cy="412.51" r="2.1" fill="#808080"/>
<circle cx="670" cy="416.33" r="2.1" fill="#808080"/>
<circle cx="670" cy="420.14" r="2.1" fill="#808080"/>
<circle cx="670" cy="423.96" r="2.1" fill="#808080"/>
<circle cx="670" cy="427.77" r="2.1" fill="#808080"/>
<circle cx="670" cy="431.59" r="2.1" fill="#808080"/>
<circle cx="670" cy="435.4" r="2.1" fill="#808080"/>
<circle cx="670" cy="439.22" r="2.1" fill="#808080"/>
<circle cx="670" cy="443.03" r="2.1" fill="#808080"/>
<circle cx="670" cy="446.84" r="2.1" fill="#808080"/>
<circle cx="670" cy="450.66" r="2.1" fill="#808080"/>
<circle cx="670" cy="454.47" r="2.1" fill="#808080"/>
<circle cx="670" cy="458.29" r="2.1" fill="#808080"/>
<circle cx="670" cy="462.1" r="2.1" fill="#808080"/>
<circle cx="670" cy="465.92" r="2.1" fill="#808080"/>
<circle cx="670" cy="469.73" r="2.1" fill="#808080"/>
<circle cx="670" cy="473.55" r="2.1" fill="#808080"/>
<circle cx="670" cy="477.36" r="2.1" fill="#808080"/>
<circle cx="670" cy="481.18" r="2.1" fill="#808080"/>
<circle cx="670" cy="484.99" r="2.1" fill="#808080"/>
<circle cx="670" cy="488.81" r="2.1" fill="#808080"/>
<circle cx="670" cy="492.62" r="2.1" fill="#808080"/>
<circle cx="670" cy="496.44" r="2.1" fill="#808080"/>
<circle cx="670" cy="500.25" r="2.1" fill="#808080"/>
<circle cx="670" cy="504.07" r="2.1" fill="#808080"/>
<circle cx="670" cy="507.88" r="2.1" fill="#808080"/>
<circle cx="670" cy="511.69" r="2.1" fill="#808080"/>
<circle cx="670" cy="515.51" r="2.1" fill="#808080"/>
<circle cx="670" cy="519.32" r="2.1" fill="#808080"/>
<circle cx="670" cy="523.14" r="2.1" fill="#808080"/>
<circle cx="670" cy="526.95" r="2.1" fill="#808080"/>
<circle cx="670" cy="530.77" r="2.1" fill="#808080"/>
<circle cx="670" cy="534.58" r="2.1" fill="#808080"/>
<circle cx="670" cy="538.4" r="2.1" fill="#808080"/>
<circle cx="670" cy="542.21" r="2.1" fill="#808080"/>
<circle cx="670" cy="546.03" r="2.1" fill="#808080"/>
<circle cx="670" cy="549.84" r="2.1" fill="#808080"/>
<circle cx="670" cy="553.66" r="2.1" fill="#808080"/>
<circle cx="670" cy="557.47" r="2.1" fill="#808080"/>
<circle cx="670" cy="561.29" r="2.1" fill="#808080"/>
<circle cx="670" cy="565.1" r="2.1" fill="#808080"/>
<circle cx="670" cy="568.91" r="2.1" fill="#808080"/>
<circle cx="670" cy="572.73" r="2.1" fill="#808080"/>
<circle cx="670" cy="576.54" r="2.1" fill="#808080"/>
<circle cx="670" cy="580.36" r="2.1" fill="#808080"/>
<circle cx="670" cy="584.17" r="2.1" fill="#808080"/>
<circle cx="670" cy="587.99" r="2.1" fill="#808080"/>
<circle cx="670" cy="591.8" r="2.1" fill="#808080"/>
<circle cx="670" cy="595.62" r="2.1" fill="#808080"/>
<circle cx="670" cy="599.43" r="2.1" fill="#808080"/>
<circle cx="670" cy="603.25" r="2.1" fill="#808080"/>
<circle cx="670" cy="607.06" r="2.1" fill="#808080"/>
<circle cx="670" cy="610.88" r="2.1" fill="#808080"/>
<circle cx="670" cy="614.69" r="2.1" fill="#808080"/>
<circle cx="670" cy="618.51" r="2.1" fill="#808080"/>
<circle cx="670" cy="622.32" r="2.1" fill="#808080"/>
<circle cx="670" cy="626.13" r="2.1" fill="#808080"/>
<circle cx="670" cy="629.95" r="2.1" fill="#808080"/>
<circle cx="670" cy="633.76" r="2.1" fill="#808080"/>
<circle cx="670" cy="637.58" r="2.1" fill="#808080"/>
<circle cx="670" cy="641.39" r="2.1" fill="#808080"/>
<circle cx="670" cy="645.21" r="2.1" fill="#808080"/>
<circle cx="670" cy="649.02" r="2.1" fill="#808080"/>
<circle cx="670" cy="652.84" r="2.1" fill="#808080"/>
<circle cx="670" cy="656.65" r="2.1" fill="#808080"/>
<circle cx="670" cy="660.47" r="2.1" fill="#808080"/>
<circle cx="670" cy="664.28" r="2.1" fill="#808080"/>
<circle cx="670" cy="668.1" r="2.1" fill="#808080"/>
<circle cx="670" cy="671.91" r="2.1" fill="#808080"/>
<circle cx="670" cy="675.73" r="2.1" fill="#808080"/>
<circle cx="670" cy="679.54" r="2.1" fill="#808080"/>
<circle cx="670" cy="683.36" r="2.1" fill="#808080"/>
<circle cx="670" cy="687.17" r="2.1" fill="#808080"/>
<circle cx="670" cy="690.98" r="2.1" fill="#808080"/>
<circle cx="670" cy="694.8" r="2.1" fill="#808080"/>
<circle cx="670" cy="698.61" r="2.1" fill="#808080"/>
<circle cx="670" cy="702.43" r="2.1" fill="#808080"/>
<circle cx="670" cy="706.24" r="2.1" fill="#808080"/>
<circle cx="670" cy="710.06" r="2.1" fill="#808080"/>
<circle cx="670" cy="713.87" r="2.1" fill="#808080"/>
<circle cx="670" cy="717.69" r="2.1" fill="#808080"/>
<circle cx="670" cy="721.5" r="2.1" fill="#808080"/>
<circle cx="670" cy="725.32" r="2.1" fill="#808080"/>
<circle cx="670" cy="729.13" r="2.1" fill="#808080"/>
<circle cx="670" cy="732.95" r="2.1" fill="#808080"/>
<circle cx="670" cy="736.76" r="2.1" fill="#808080"/>
<circle cx="670" cy="740.58" r="2.1" fill="#808080"/>
<circle cx="670" cy="744.39" r="2.1" fill="#808080"/>
<circle cx="670" cy="748.2" r="2.1" fill="#808080"/>
<circle cx="670" cy="752.02" r="2.1" fill="#808080"/>
<circle cx="670" cy="755.83" r="2.1" fill="#808080"/>
<circle cx="670" cy="759.65" r="2.1" fill="#808080"/>
<circle cx="670" cy="763.46" r="2.1" fill="#808080"/>
<circle cx="670" cy="767.28" r="2.1" fill="#808080"/>
<circle cx="670" cy="771.09" r="2.1" fill="#808080"/>
<circle cx="670" cy="774.91" r="2.1" fill="#808080"/>
<circle cx="670" cy="778.72" r="2.1" fill="#808080"/>
<circle cx="670" cy="782.54" r="2.1" fill="#808080"/>
<circle cx="670" cy="786.35" r="2.1" fill="#808080"/>
<circle cx="670" cy="790.17" r="2.1" fill="#808080"/>
<circle cx="670" cy="793.98" r="2.1" fill="#808080"/>
<circle cx="670" cy="797.8" r="2.1" fill="#808080"/>
<circle cx="670" cy="801.61" r="2.1" fill="#808080"/>
<circle cx="670" cy="805.43" r="2.1" fill="#808080"/>
<circle cx="670" cy="809.24" r="2.1" fill="#808080"/>
<circle cx="670" cy="813.05" r="2.1" fill="#808080"/>
<circle cx="670" cy="816.87" r="2.1" fill="#808080"/>
<circle cx="670" cy="820.68" r="2.1" fill="#808080"/>
<circle cx="670" cy="824.5" r="2.1" fill="#808080"/>
<circle cx="670" cy="828.31" r="2.1" fill="#808080"/>
<circle cx="670" cy="832.13" r="2.1" fill="#808080"/>
<circle cx="670" cy="835.94" r="2.1" fill="#808080"/>
<circle cx="670" cy="839.76" r="2.1" fill="#808080"/>
<circle cx="670" cy="843.57" r="2.1" fill="#808080"/>
<circle cx="670" cy="847.39" r="2.1" fill="#808080"/>
<circle cx="670" cy="851.2" r="2.1" fill="#808080"/>
<circle cx="670" cy="855.02" r="2.1" fill="#808080"/>
<circle cx="670" cy="858.83" r="2.1" fill="#808080"/>
<circle cx="670" cy="862.65" r="2.1" fill="#808080"/>
<circle cx="670" cy="866.46" r="2.1" fill="#808080"/>
<circle cx="670" cy="870.27" r="2.1" fill="#808080"/>
<circle cx="670" cy="874.09" r="2.1" fill="#808080"/>
<circle cx="670" cy="877.9" r="2.1" fill="#808080"/>
<circle cx="670" cy="881.72" r="2.1" fill="#808080"/>
<circle cx="670" cy="885.53" r="2.1" fill="#808080"/>
<circle cx="670" cy="889.35" r="2.1" fill="#808080"/>
<circle cx="670" cy="893.16" r="2.1" fill="#808080"/>
<circle cx="670" cy="896.98" r="2.1" fill="#808080"/>
<circle cx="670" cy="900.79" r="2.1" fill="#808080"/>
<circle cx="670" cy="904.61" r="2.1" fill="#808080"/>
<circle cx="670" cy="908.42" r="2.1" fill="#808080"/>
<circle cx="670" cy="912.24" r="2.1" fill="#808080"/>
<circle cx="670" cy="916.05" r="2.1" fill="#808080"/>
<circle cx="670" cy="919.87" r="2.1" fill="#808080"/>
<circle cx="670" cy="923.68" r="2.1" fill="#808080"/>
<circle cx="670" cy="927.5" r="2.1" fill="#808080"/>
<circle cx="670" cy="931.31" r="2.1" fill="#808080"/>
<circle cx="670" cy="935.12" r="2.1" fill="#808080"/>
<circle cx="670" cy="938.94" r="2.1" fill="#808080"/>
<circle cx="670" cy="942.75" r="2.1" fill="#808080"/>
<circle cx="670" cy="946.57" r="2.1" fill="#808080"/>
<circle cx="670" cy="950.38" r="2.1" fill="#808080"/>
<circle cx="670" cy="954.2" r="2.1" fill="#808080"/>
<circle cx="670" cy="958.01" r="2.1" fill="#808080"/>
<circle cx="670" cy="961.83" r="2.1" fill="#808080"/>
<circle cx="670" cy="965.64" r="2.1" fill="#808080"/>
<circle cx="670" cy="969.46" r="2.1" fill="#808080"/>
<circle cx="670" cy="973.27" r="2.1" fill="#808080"/>
<circle cx="670" cy="977.09" r="2.1" fill="#808080"/>
<circle cx="670" cy="980.9" r="2.1" fill="#808080"/>
<circle cx="670" cy="984.72" r="2.1" fill="#808080"/>
<circle cx="670" cy="988.53" r="2.1" fill="#808080"/>
<circle cx="670" cy="992.34" r="2.1" fill="#808080"/>
<circle cx="670" cy="996.16" r="2.1" fill="#808080"/>
<circle cx="670" cy="999.97" r="2.1" fill="#808080"/>
<circle cx="670" cy="1003.79" r="2.1" fill="#808080"/>
<circle cx="670" cy="1007.6" r="2.1" fill="#808080"/>
<circle cx="670" cy="1011.42" r="2.1" fill="#808080"/>
<circle cx="670" cy="1015.23" r="2.1" fill="#808080"/>
<circle cx="670" cy="1019.05" r="2.1" fill="#808080"/>
<circle cx="670" cy="1022.86" r="2.1" fill="#808080"/>
<circle cx="670" cy="1026.68" r="2.1" fill="#808080"/>
<circle cx="670" cy="1030.49" r="2.1" fill="#808080"/>
<circle cx="670" cy="1034.31" r="2.1" fill="#808080"/>
<circle cx="670" cy="1038.12" r="2.1" fill="#808080"/>
<circle cx="670" cy="1041.94" r="2.1" fill="#808080"/>
<circle cx="670" cy="1045.75" r="2.1" fill="#808080"/>
<circle cx="670" cy="1049.57" r="2.1" fill="#808080"/>
<circle cx="670" cy="1053.38" r="2.1" fill="#808080"/>
<circle cx="670" cy="1057.19" r="2.1" fill="#808080"/>
<circle cx="670" cy="1061.01" r="2.1" fill="#808080"/>
<circle cx="670" cy="1064.82" r="2.1" fill="#808080"/>
<circle cx="670" cy="1068.64" r="2.1" fill="#808080"/>
<circle cx="670" cy="1072.45" r="2.1" fill="#808080"/>
<circle cx="670" cy="1076.27" r="2.1" fill="#808080"/>
<circle cx="670" cy="1080.08" r="2.1" fill="#808080"/>
<circle cx="670" cy="1083.9" r="2.1" fill="#808080"/>
<circle cx="670" cy="1087.71" r="2.1" fill="#808080"/>
<circle cx="670" cy="1091.53" r="2.1" fill="#808080"/>
<circle cx="670" cy="1095.34" r="2.1" fill="#808080"/>
<circle cx="670" cy="1099.16" r="2.1" fill="#808080"/>
<circle cx="670" cy="1102.97" r="2.1" fill="#808080"/>
<circle cx="670" cy="1106.79" r="2.1" fill="#808080"/>
<circle cx="670" cy="1110.6" r="2.1" fill="#808080"/>
<circle cx="843.7" cy="19.7" r="3.75" fill="#1b9e77"/>
<circle cx="843.7" cy="29.99" r="3.75" fill="#1b9e77"/>
<circle cx="843.7" cy="40.28" r="3.75" fill="#1b9e77"/>
<circle cx="843.7" cy="50.57" r="3.75" fill="#1b9e77"/>
<circle cx="843.7" cy="60.86" r="3.75" fill="#1b9e77"/>
<circle cx="843.7" cy="71.15" r="3.75" fill="#1b9e77"/>
<circle cx="843.7" cy="81.44" r="3.75" fill="#1b9e77"/>
<circle cx="843.7" cy="91.73" r="3.75" fill="#1b9e77"/>
<circle cx="843.7" cy="102.02" r="3.75" fill="#1b9e77"/>
<circle cx="843.7" cy="112.32" r="3.75" fill="#1b9e77"/>
<circle cx="843.7" cy="122.61" r="3.75" fill="#1b9e77"/>
<circle cx="843.7" cy="132.9" r="3.75" fill="#1b9e77"/>
<circle cx="843.7" cy="143.19" r="3.75" fill="#1b9e77"/>
<circle cx="843.7" cy="153.48" r="3.75" fill="#1b9e77"/>
<circle cx="843.7" cy="163.77" r="3.75" fill="#1b9e77"/>
<circle cx="843.7" cy="174.06" r="3.75" fill="#1b9e77"/>
<circle cx="843.7" cy="184.35" r="3.75" fill="#1b9e77"/>
<circle cx="843.7" cy="194.64" r="3.75" fill="#1b9e77"/>
<circle cx="843.7" cy="204.93" r="3.75" fill="#1b9e77"/>
<circle cx="843.7" cy="215.22" r="3.75" fill="#1b9e77"/>
<circle cx="843.7" cy="225.51" r="3.75" fill="#1b9e77"/>
<circle cx="843.7" cy="235.8" r="3.75" fill="#1b9e77"/>
<circle cx="843.7" cy="246.09" r="3.75" fill="#1b9e77"/>
<circle cx="843.7" cy="256.38" r="3.75" fill="#1b9e77"/>
<circle cx="843.7" cy="266.67" r="3.75" fill="#1b9e77"/>
<circle cx="843.7" cy="276.96" r="3.75" fill="#1b9e77"/>
<circle cx="843.7" cy="287.25" r="3.75" fill="#1b9e77"/>
<circle cx="843.7" cy="297.55" r="3.75" fill="#1b9e77"/>
<circle cx="843.7" cy="307.84" r="3.75" fill="#1b9e77"/>
<circle cx="843.7" cy="318.13" r="3.75" fill="#1b9e77"/>
<circle cx="843.7" cy="328.42" r="3.75" fill="#1b9e77"/>
<circle cx="843.7" cy="338.71" r="3.75" fill="#1b9e77"/>
<circle cx="843.7" cy="349" r="3.75" fill="#1b9e77"/>
<circle cx="843.7" cy="359.29" r="3.75" fill="#1b9e77"/>
<circle cx="843.7" cy="369.58" r="3.75" fill="#1b9e77"/>
<circle cx="843.7" cy="379.87" r="3.75" fill="#1b9e77"/>
<circle cx="843.7" cy="390.16" r="3.75" fill="#1b9e77"/>
<circle cx="843.7" cy="400.45" r="3.75" fill="#1b9e77"/>
<circle cx="843.7" cy="410.74" r="3.75" fill="#1b9e77"/>
<circle cx="843.7" cy="421.03" r="3.75" fill="#1b9e77"/>
<circle cx="843.7" cy="431.32" r="3.75" fill="#1b9e77"/>
<circle cx="843.7" cy="441.61" r="3.75" fill="#1b9e77"/>
<circle cx="843.7" cy="451.9" r="3.75" fill="#1b9e77"/>
<circle cx="843.7" cy="462.19" r="3.75" fill="#1b9e77"/>
<circle cx="843.7" cy="472.48" r="3.75" fill="#1b9e77"/>
<circle cx="843.7" cy="482.78" r="3.75" fill="#1b9e77"/>
<circle cx="843.7" cy="493.07" r="3.75" fill="#1b9e77"/>
<circle cx="843.7" cy="503.36" r="3.75" fill="#1b9e77"/>
<circle cx="843.7" cy="513.65" r="3.75" fill="#1b9e77"/>
<circle cx="843.7" cy="523.94" r="3.75" fill="#1b9e77"/>
<circle cx="843.7" cy="534.23" r="3.75" fill="#1b9e77"/>
<circle cx="843.7" cy="544.52" r="3.75" fill="#1b9e77"/>
<circle cx="843.7" cy="554.81" r="3.75" fill="#1b9e77"/>
<circle cx="843.7" cy="565.1" r="3.75" fill="#1b9e77"/>
<circle cx="843.7" cy="575.39" r="3.75" fill="#1b9e77"/>
<circle cx="843.7" cy="585.68" r="3.75" fill="#1b9e77"/>
<circle cx="843.7" cy="595.97" r="3.75" fill="#1b9e77"/>
<circle cx="843.7" cy="606.26" r="3.75" fill="#1b9e77"/>
<circle cx="843.7" cy="616.55" r="3.75" fill="#1b9e77"/>
<circle cx="843.7" cy="626.84" r="3.75" fill="#1b9e77"/>
<circle cx="843.7" cy="637.13" r="3.75" fill="#1b9e77"/>
<circle cx="843.7" cy="647.42" r="3.75" fill="#1b9e77"/>
<circle cx="843.7" cy="657.72" r="3.75" fill="#1b9e77"/>
<circle cx="843.7" cy="668.01" r="3.75" fill="#1b9e77"/>
<circle cx="843.7" cy="678.3" r="3.75" fill="#1b9e77"/>
<circle cx="843.7" cy="688.59" r="3.75" fill="#1b9e77"/>
<circle cx="843.7" cy="698.88" r="3.75" fill="#1b9e77"/>
<circle cx="843.7" cy="709.17" r="3.75" fill="#1b9e77"/>
<circle cx="843.7" cy="719.46" r="3.75" fill="#1b9e77"/>
<circle cx="843.7" cy="729.75" r="3.75" fill="#1b9e77"/>
<circle cx="843.7" cy="740.04" r="3.75" fill="#1b9e77"/>
<circle cx="843.7" cy="750.33" r="3.75" fill="#1b9e77"/>
<circle cx="843.7" cy="760.62" r="3.75" fill="#1b9e77"/>
<circle cx="843.7" cy="770.91" r="3.75" fill="#1b9e77"/>
<circle cx="843.7" cy="781.2" r="3.75" fill="#1b9e77"/>
<circle cx="843.7" cy="791.49" r="3.75" fill="#1b9e77"/>
<circle cx="843.7" cy="801.78" r="3.75" fill="#1b9e77"/>
<circle cx="843.7" cy="812.07" r="3.75" fill="#1b9e77"/>
<circle cx="843.7" cy="822.36" r="3.75" fill="#1b9e77"/>
<circle cx="843.7" cy="832.65" r="3.75" fill="#1b9e77"/>
<circle cx="843.7" cy="842.95" r="3.75" fill="#1b9e77"/>
<circle cx="843.7" cy="853.24" r="3.75" fill="#1b9e77"/>
<circle cx="843.7" cy="863.53" r="3.75" fill="#1b9e77"/>
<circle cx="843.7" cy="873.82" r="3.75" fill="#1b9e77"/>
<circle cx="843.7" cy="884.11" r="3.75" fill="#1b9e77"/>
<circle cx="843.7" cy="894.4" r="3.75" fill="#1b9e77"/>
<circle cx="843.7" cy="904.69" r="3.75" fill="#1b9e77"/>
<circle cx="843.7" cy="914.98" r="3.75" fill="#1b9e77"/>
<circle cx="843.7" cy="925.27" r="3.75" fill="#1b9e77"/>
<circle cx="843.7" cy="935.56" r="3.75" fill="#1b9e77"/>
<circle cx="843.7" cy="945.85" r="3.75" fill="#1b9e77"/>
<circle cx="843.7" cy="956.14" r="3.75" fill="#1b9e77"/>
<circle cx="843.7" cy="966.43" r="3.75" fill="#1b9e77"/>
<circle cx="843.7" cy="976.72" r="3.75" fill="#1b9e77"/>
<circle cx="843.7" cy="987.01" r="3.75" fill="#1b9e77"/>
<circle cx="843.7" cy="997.3" r="3.75" fill="#1b9e77"/>
<circle cx="843.7" cy="1007.59" r="3.75" fill="#1b9e77"/>
<circle cx="843.7" cy="1017.88" r="3.75" fill="#1b9e77"/>
<circle cx="843.7" cy="1028.18" r="3.75" fill="#1b9e77"/>
<circle cx="843.7" cy="1038.47" r="3.75" fill="#1b9e77"/>
<circle cx="843.7" cy="1048.76" r="3.75" fill="#1b9e77"/>
<circle cx="843.7" cy="1059.05" r="3.75" fill="#1b9e77"/>
<circle cx="843.7" cy="1069.34" r="3.75" fill="#1b9e77"/>
<circle cx="843.7" cy="1079.63" r="3.75" fill="#1b9e77"/>
<circle cx="843.7" cy="1089.92" r="3.75" fill="#1b9e77"/>
<circle cx="843.7" cy="1100.21" r="3.75" fill="#1b9e77"/>
<circle cx="843.7" cy="1110.5" r="3.75" fill="#1b9e77"/>
<circle cx="1016.8" cy="19.7" r="4.8" fill="#d95f02"/>
<circle cx="1016.8" cy="69.29" r="4.8" fill="#d95f02"/>
<circle cx="1016.8" cy="118.88" r="4.8" fill="#d95f02"/>
<circle cx="1016.8" cy="168.47" r="4.8" fill="#d95f02"/>
<circle cx="1016.8" cy="218.06" r="4.8" fill="#d95f02"/>
<circle cx="1016.8" cy="267.65" r="4.8" fill="#d95f02"/>
<circle cx="1016.8" cy="317.25" r="4.8" fill="#d95f02"/>
<circle cx="1016.8" cy="366.84" r="4.8" fill="#d95f02"/>
<circle cx="1016.8" cy="416.43" r="4.8" fill="#d95f02"/>
<circle cx="1016.8" cy="466.02" r="4.8" fill="#d95f02"/>
<circle cx="1016.8" cy="515.61" r="4.8" fill="#d95f02"/>
<circle cx="1016.8" cy="565.2" r="4.8" fill="#d95f02"/>
<circle cx="1016.8" cy="614.79" r="4.8" fill="#d95f02"/>
<circle cx="1016.8" cy="664.38" r="4.8" fill="#d95f02"/>
<circle cx="1016.8" cy="713.97" r="4.8" fill="#d95f02"/>
<circle cx="1016.8" cy="763.56" r="4.8" fill="#d95f02"/>
<circle cx="1016.8" cy="813.15" r="4.8" fill="#d95f02"/>
<circle cx="1016.8" cy="862.75" r="4.8" fill="#d95f02"/>
<circle cx="1016.8" cy="912.34" r="4.8" fill="#d95f02"/>
<circle cx="1016.8" cy="961.93" r="4.8" fill="#d95f02"/>
<circle cx="1016.8" cy="1011.52" r="4.8" fill="#d95f02"/>
<circle cx="1016.8" cy="1061.11" r="4.8" fill="#d95f02"/>
<circle cx="1016.8" cy="1110.7" r="4.8" fill="#d95f02"/>
<circle cx="1191" cy="19.7" r="4.8" fill="#e7298a"/>
<circle cx="1191" cy="175.56" r="4.8" fill="#e7298a"/>
<circle cx="1191" cy="331.41" r="4.8" fill="#e7298a"/>
<circle cx="1191" cy="487.27" r="4.8" fill="#e7298a"/>
<circle cx="1191" cy="643.13" r="4.8" fill="#e7298a"/>
<circle cx="1191" cy="798.99" r="4.8" fill="#e7298a"/>
<circle cx="1191" cy="954.84" r="4.8" fill="#e7298a"/>
<circle cx="1191" cy="1110.7" r="4.8" fill="#e7298a"/>
<g stroke="#808080" stroke-width="0.7" fill="none">
<path d="M670 19.6L843.7 19.7"/>
<path d="M670 23.41L843.7 19.7"/>
<path d="M670 27.23L843.7 19.7"/>
<path d="M670 31.04L843.7 19.7"/>
<path d="M670 34.86L843.7 19.7"/>
<path d="M670 38.67L843.7 19.7"/>
<path d="M670 42.49L843.7 29.99"/>
<path d="M670 46.3L843.7 29.99"/>
<path d="M670 50.12L843.7 29.99"/>
<path d="M670 53.93L843.7 29.99"/>
<path d="M670 57.75L843.7 29.99"/>
<path d="M670 61.56L843.7 29.99"/>
<path d="M670 65.38L843.7 29.99"/>
<path d="M670 69.19L843.7 29.99"/>
<path d="M670 73.01L843.7 29.99"/>
<path d="M670 76.82L843.7 40.28"/>
<path d="M670 80.63L843.7 50.57"/>
<path d="M670 80.63L843.7 60.86"/>
<path d="M670 84.45L843.7 71.15"/>
<path d="M670 84.45L843.7 81.44"/>
<path d="M670 88.26L843.7 91.73"/>
<path d="M670 88.26L843.7 102.02"/>
<path d="M670 92.08L843.7 112.32"/>
<path d="M670 92.08L843.7 122.61"/>
<path d="M670 95.89L843.7 132.9"/>
<path d="M670 95.89L843.7 143.19"/>
<path d="M670 99.71L843.7 153.48"/>
<path d="M670 99.71L843.7 163.77"/>
<path d="M670 103.52L843.7 174.06"/>
<path d="M670 103.52L843.7 184.35"/>
<path d="M670 107.34L843.7 194.64"/>
<path d="M670 107.34L843.7 204.93"/>
<path d="M670 111.15L843.7 215.22"/>
<path d="M670 111.15L843.7 225.51"/>
<path d="M670 114.97L843.7 235.8"/>
<path d="M670 114.97L843.7 246.09"/>
<path d="M670 118.78L843.7 256.38"/>
<path d="M670 118.78L843.7 266.67"/>
<path d="M670 122.6L843.7 287.25"/>
<path d="M670 118.78L843.7 287.25"/>
<path d="M670 80.63L843.7 276.96"/>
<path d="M670 84.45L843.7 276.96"/>
<path d="M670 88.26L843.7 276.96"/>
<path d="M670 92.08L843.7 276.96"/>
<path d="M670 95.89L843.7 276.96"/>
<path d="M670 99.71L843.7 276.96"/>
<path d="M670 103.52L843.7 276.96"/>
<path d="M670 107.34L843.7 276.96"/>
<path d="M670 111.15L843.7 276.96"/>
<path d="M670 114.97L843.7 276.96"/>
<path d="M670 118.78L843.7 276.96"/>
<path d="M670 122.6L843.7 276.96"/>
<path d="M670 126.41L843.7 297.55"/>
<path d="M670 130.23L843.7 297.55"/>
<path d="M670 134.04L843.7 297.55"/>
<path d="M670 137.86L843.7 297.55"/>
<path d="M670 141.67L843.7 297.55"/>
<path d="M670 145.48L843.7 297.55"/>
<path d="M670 149.3L843.7 297.55"/>
<path d="M670 153.11L843.7 297.55"/>
<path d="M670 156.93L843.7 297.55"/>
<path d="M670 160.74L843.7 297.55"/>
<path d="M670 164.56L843.7 297.55"/>
<path d="M670 168.37L843.7 297.55"/>
<path d="M670 172.19L843.7 297.55"/>
<path d="M670 176L843.7 297.55"/>
<path d="M670 179.82L843.7 297.55"/>
<path d="M670 183.63L843.7 307.84"/>
<path d="M670 187.45L843.7 307.84"/>
<path d="M670 191.26L843.7 307.84"/>
<path d="M670 195.08L843.7 307.84"/>
<path d="M670 198.89L843.7 307.84"/>
<path d="M670 202.7L843.7 307.84"/>
<path d="M670 206.52L843.7 307.84"/>
<path d="M670 210.33L843.7 307.84"/>
<path d="M670 214.15L843.7 307.84"/>
<path d="M670 217.96L843.7 307.84"/>
<path d="M670 221.78L843.7 307.84"/>
<path d="M670 225.59L843.7 307.84"/>
<path d="M670 229.41L843.7 307.84"/>
<path d="M670 233.22L843.7 307.84"/>
<path d="M670 237.04L843.7 307.84"/>
<path d="M670 240.85L843.7 307.84"/>
<path d="M670 244.67L843.7 307.84"/>
<path d="M670 248.48L843.7 307.84"/>
<path d="M670 252.3L843.7 307.84"/>
<path d="M670 256.11L843.7 307.84"/>
<path d="M670 259.93L843.7 307.84"/>
<path d="M670 263.74L843.7 307.84"/>
<path d="M670 267.55L843.7 307.84"/>
<path d="M670 259.93L843.7 318.13"/>
<path d="M670 263.74L843.7 318.13"/>
<path d="M670 267.55L843.7 318.13"/>
<path d="M670 271.37L843.7 318.13"/>
<path d="M670 275.18L843.7 318.13"/>
<path d="M670 279L843.7 328.42"/>
<path d="M670 286.63L843.7 328.42"/>
<path d="M670 294.26L843.7 328.42"/>
<path d="M670 301.89L843.7 328.42"/>
<path d="M670 309.52L843.7 328.42"/>
<path d="M670 317.15L843.7 328.42"/>
<path d="M670 279L843.7 338.71"/>
<path d="M670 282.81L843.7 338.71"/>
<path d="M670 286.63L843.7 338.71"/>
<path d="M670 290.44L843.7 338.71"/>
<path d="M670 294.26L843.7 338.71"/>
<path d="M670 298.07L843.7 338.71"/>
<path d="M670 301.89L843.7 338.71"/>
<path d="M670 305.7L843.7 338.71"/>
<path d="M670 309.52L843.7 338.71"/>
<path d="M670 313.33L843.7 338.71"/>
<path d="M670 317.15L843.7 338.71"/>
<path d="M670 320.96L843.7 349"/>
<path d="M670 324.77L843.7 359.29"/>
<path d="M670 328.59L843.7 369.58"/>
<path d="M670 332.4L843.7 379.87"/>
<path d="M670 336.22L843.7 390.16"/>
<path d="M670 340.03L843.7 400.45"/>
<path d="M670 343.85L843.7 410.74"/>
<path d="M670 347.66L843.7 421.03"/>
<path d="M670 351.48L843.7 431.32"/>
<path d="M670 355.29L843.7 441.61"/>
<path d="M670 359.11L843.7 451.9"/>
<path d="M670 362.92L843.7 462.19"/>
<path d="M670 366.74L843.7 472.48"/>
<path d="M670 370.55L843.7 482.78"/>
<path d="M670 374.37L843.7 493.07"/>
<path d="M670 378.18L843.7 503.36"/>
<path d="M670 382L843.7 513.65"/>
<path d="M670 385.81L843.7 523.94"/>
<path d="M670 389.62L843.7 534.23"/>
<path d="M670 393.44L843.7 544.52"/>
<path d="M670 397.25L843.7 554.81"/>
<path d="M670 401.07L843.7 565.1"/>
<path d="M670 404.88L843.7 575.39"/>
<path d="M670 408.7L843.7 585.68"/>
<path d="M670 412.51L843.7 595.97"/>
<path d="M670 416.33L843.7 606.26"/>
<path d="M670 420.14L843.7 616.55"/>
<path d="M670 423.96L843.7 626.84"/>
<path d="M670 427.77L843.7 637.13"/>
<path d="M670 431.59L843.7 647.42"/>
<path d="M670 435.4L843.7 657.72"/>
<path d="M670 439.22L843.7 668.01"/>
<path d="M670 443.03L843.7 678.3"/>
<path d="M670 446.84L843.7 688.59"/>
<path d="M670 450.66L843.7 698.88"/>
<path d="M670 454.47L843.7 709.17"/>
<path d="M670 458.29L843.7 719.46"/>
<path d="M670 462.1L843.7 729.75"/>
<path d="M670 465.92L843.7 740.04"/>
<path d="M670 469.73L843.7 750.33"/>
<path d="M670 473.55L843.7 760.62"/>
<path d="M670 477.36L843.7 770.91"/>
<path d="M670 481.18L843.7 781.2"/>
<path d="M670 484.99L843.7 791.49"/>
<path d="M670 320.96L843.7 359.29"/>
<path d="M670 324.77L843.7 369.58"/>
<path d="M670 328.59L843.7 379.87"/>
<path d="M670 332.4L843.7 390.16"/>
<path d="M670 336.22L843.7 400.45"/>
<path d="M670 340.03L843.7 410.74"/>
<path d="M670 343.85L843.7 421.03"/>
<path d="M670 347.66L843.7 431.32"/>
<path d="M670 351.48L843.7 441.61"/>
<path d="M670 355.29L843.7 451.9"/>
<path d="M670 359.11L843.7 462.19"/>
<path d="M670 362.92L843.7 472.48"/>
<path d="M670 366.74L843.7 482.78"/>
<path d="M670 370.55L843.7 493.07"/>
<path d="M670 374.37L843.7 503.36"/>
<path d="M670 378.18L843.7 513.65"/>
<path d="M670 382L843.7 523.94"/>
<path d="M670 385.81L843.7 534.23"/>
<path d="M670 389.62L843.7 544.52"/>
<path d="M670 393.44L843.7 554.81"/>
<path d="M670 397.25L843.7 565.1"/>
<path d="M670 401.07L843.7 575.39"/>
<path d="M670 404.88L843.7 585.68"/>
<path d="M670 408.7L843.7 595.97"/>
<path d="M670 412.51L843.7 606.26"/>
<path d="M670 416.33L843.7 616.55"/>
<path d="M670 420.14L843.7 626.84"/>
<path d="M670 423.96L843.7 637.13"/>
<path d="M670 427.77L843.7 647.42"/>
<path d="M670 431.59L843.7 657.72"/>
<path d="M670 435.4L843.7 668.01"/>
<path d="M670 439.22L843.7 678.3"/>
<path d="M670 443.03L843.7 688.59"/>
<path d="M670 446.84L843.7 698.88"/>
<path d="M670 450.66L843.7 709.17"/>
<path d="M670 454.47L843.7 719.46"/>
<path d="M670 458.29L843.7 729.75"/>
<path d="M670 462.1L843.7 740.04"/>
<path d="M670 465.92L843.7 750.33"/>
<path d="M670 469.73L843.7 760.62"/>
<path d="M670 473.55L843.7 770.91"/>
<path d="M670 477.36L843.7 781.2"/>
<path d="M670 481.18L843.7 791.49"/>
<path d="M670 484.99L843.7 801.78"/>
<path d="M670 393.44L843.7 812.07"/>
<path d="M670 397.25L843.7 812.07"/>
<path d="M670 401.07L843.7 812.07"/>
<path d="M670 404.88L843.7 812.07"/>
<path d="M670 408.7L843.7 812.07"/>
<path d="M670 412.51L843.7 812.07"/>
<path d="M670 416.33L843.7 812.07"/>
<path d="M670 420.14L843.7 812.07"/>
<path d="M670 423.96L843.7 812.07"/>
<path d="M670 427.77L843.7 812.07"/>
<path d="M670 431.59L843.7 812.07"/>
<path d="M670 435.4L843.7 812.07"/>
<path d="M670 439.22L843.7 812.07"/>
<path d="M670 443.03L843.7 812.07"/>
<path d="M670 446.84L843.7 812.07"/>
<path d="M670 450.66L843.7 812.07"/>
<path d="M670 454.47L843.7 812.07"/>
<path d="M670 458.29L843.7 812.07"/>
<path d="M670 462.1L843.7 812.07"/>
<path d="M670 465.92L843.7 812.07"/>
<path d="M670 469.73L843.7 812.07"/>
<path d="M670 473.55L843.7 812.07"/>
<path d="M670 477.36L843.7 812.07"/>
<path d="M670 481.18L843.7 812.07"/>
<path d="M670 484.99L843.7 812.07"/>
<path d="M670 488.81L843.7 822.36"/>
<path d="M670 492.62L843.7 822.36"/>
<path d="M670 496.44L843.7 822.36"/>
<path d="M670 500.25L843.7 822.36"/>
<path d="M670 504.07L843.7 822.36"/>
<path d="M670 507.88L843.7 822.36"/>
<path d="M670 511.69L843.7 822.36"/>
<path d="M670 515.51L843.7 822.36"/>
<path d="M670 519.32L843.7 822.36"/>
<path d="M670 523.14L843.7 822.36"/>
<path d="M670 526.95L843.7 822.36"/>
<path d="M670 530.77L843.7 822.36"/>
<path d="M670 534.58L843.7 822.36"/>
<path d="M670 538.4L843.7 822.36"/>
<path d="M670 542.21L843.7 822.36"/>
<path d="M670 546.03L843.7 822.36"/>
<path d="M670 549.84L843.7 822.36"/>
<path d="M670 553.66L843.7 822.36"/>
<path d="M670 557.47L843.7 822.36"/>
<path d="M670 561.29L843.7 822.36"/>
<path d="M670 565.1L843.7 822.36"/>
<path d="M670 568.91L843.7 822.36"/>
<path d="M670 572.73L843.7 822.36"/>
<path d="M670 576.54L843.7 822.36"/>
<path d="M670 580.36L843.7 822.36"/>
<path d="M670 584.17L843.7 822.36"/>
<path d="M670 587.99L843.7 822.36"/>
<path d="M670 591.8L843.7 822.36"/>
<path d="M670 595.62L843.7 832.65"/>
<path d="M670 599.43L843.7 832.65"/>
<path d="M670 603.25L843.7 832.65"/>
<path d="M670 607.06L843.7 832.65"/>
<path d="M670 610.88L843.7 832.65"/>
<path d="M670 614.69L843.7 832.65"/>
<path d="M670 618.51L843.7 832.65"/>
<path d="M670 622.32L843.7 832.65"/>
<path d="M670 626.13L843.7 832.65"/>
<path d="M670 629.95L843.7 832.65"/>
<path d="M670 633.76L843.7 832.65"/>
<path d="M670 637.58L843.7 832.65"/>
<path d="M670 641.39L843.7 832.65"/>
<path d="M670 645.21L843.7 832.65"/>
<path d="M670 649.02L843.7 842.95"/>
<path d="M670 652.84L843.7 842.95"/>
<path d="M670 656.65L843.7 842.95"/>
<path d="M670 660.47L843.7 842.95"/>
<path d="M670 664.28L843.7 842.95"/>
<path d="M670 668.1L843.7 842.95"/>
<path d="M670 671.91L843.7 842.95"/>
<path d="M670 675.73L843.7 853.24"/>
<path d="M670 679.54L843.7 853.24"/>
<path d="M670 683.36L843.7 853.24"/>
<path d="M670 687.17L843.7 853.24"/>
<path d="M670 690.98L843.7 853.24"/>
<path d="M670 694.8L843.7 853.24"/>
<path d="M670 698.61L843.7 853.24"/>
<path d="M670 702.43L843.7 853.24"/>
<path d="M670 706.24L843.7 853.24"/>
<path d="M670 710.06L843.7 853.24"/>
<path d="M670 713.87L843.7 853.24"/>
<path d="M670 717.69L843.7 853.24"/>
<path d="M670 721.5L843.7 853.24"/>
<path d="M670 725.32L843.7 853.24"/>
<path d="M670 729.13L843.7 853.24"/>
<path d="M670 732.95L843.7 853.24"/>
<path d="M670 736.76L843.7 853.24"/>
<path d="M670 740.58L843.7 853.24"/>
<path d="M670 744.39L843.7 853.24"/>
<path d="M670 748.2L843.7 853.24"/>
<path d="M670 752.02L843.7 853.24"/>
<path d="M670 755.83L843.7 853.24"/>
<path d="M670 759.65L843.7 853.24"/>
<path d="M670 763.46L843.7 853.24"/>
<path d="M670 767.28L843.7 853.24"/>
<path d="M670 771.09L843.7 853.24"/>
<path d="M670 774.91L843.7 853.24"/>
<path d="M670 778.72L843.7 853.24"/>
<path d="M670 782.54L843.7 853.24"/>
<path d="M670 786.35L843.7 853.24"/>
<path d="M670 790.17L843.7 853.24"/>
<path d="M670 793.98L843.7 853.24"/>
<path d="M670 797.8L843.7 853.24"/>
<path d="M670 801.61L843.7 853.24"/>
<path d="M670 805.43L843.7 853.24"/>
<path d="M670 809.24L843.7 853.24"/>
<path d="M670 813.05L843.7 853.24"/>
<path d="M670 816.87L843.7 853.24"/>
<path d="M670 820.68L843.7 853.24"/>
<path d="M670 824.5L843.7 853.24"/>
<path d="M670 828.31L843.7 853.24"/>
<path d="M670 832.13L843.7 863.53"/>
<path d="M670 839.76L843.7 863.53"/>
<path d="M670 847.39L843.7 863.53"/>
<path d="M670 855.02L843.7 863.53"/>
<path d="M670 862.65L843.7 863.53"/>
<path d="M670 832.13L843.7 873.82"/>
<path d="M670 835.94L843.7 873.82"/>
<path d="M670 839.76L843.7 873.82"/>
<path d="M670 843.57L843.7 873.82"/>
<path d="M670 847.39L843.7 873.82"/>
<path d="M670 851.2L843.7 873.82"/>
<path d="M670 855.02L843.7 873.82"/>
<path d="M670 858.83L843.7 873.82"/>
<path d="M670 874.09L843.7 873.82"/>
<path d="M670 877.9L843.7 873.82"/>
<path d="M670 881.72L843.7 873.82"/>
<path d="M670 885.53L843.7 873.82"/>
<path d="M670 889.35L843.7 873.82"/>
<path d="M670 832.13L843.7 884.11"/>
<path d="M670 835.94L843.7 884.11"/>
<path d="M670 839.76L843.7 884.11"/>
<path d="M670 843.57L843.7 884.11"/>
<path d="M670 847.39L843.7 884.11"/>
<path d="M670 851.2L843.7 884.11"/>
<path d="M670 855.02L843.7 884.11"/>
<path d="M670 858.83L843.7 884.11"/>
<path d="M670 862.65L843.7 884.11"/>
<path d="M670 866.46L843.7 884.11"/>
<path d="M670 870.27L843.7 884.11"/>
<path d="M670 874.09L843.7 884.11"/>
<path d="M670 877.9L843.7 884.11"/>
<path d="M670 881.72L843.7 884.11"/>
<path d="M670 885.53L843.7 884.11"/>
<path d="M670 889.35L843.7 884.11"/>
<path d="M670 893.16L843.7 894.4"/>
<path d="M670 896.98L843.7 904.69"/>
<path d="M670 900.79L843.7 914.98"/>
<path d="M670 904.61L843.7 925.27"/>
<path d="M670 908.42L843.7 935.56"/>
<path d="M670 912.24L843.7 945.85"/>
<path d="M670 916.05L843.7 956.14"/>
<path d="M670 919.87L843.7 966.43"/>
<path d="M670 923.68L843.7 976.72"/>
<path d="M670 927.5L843.7 987.01"/>
<path d="M670 931.31L843.7 997.3"/>
<path d="M670 935.12L843.7 1007.59"/>
<path d="M670 938.94L843.7 1017.88"/>
<path d="M670 942.75L843.7 1028.18"/>
<path d="M670 946.57L843.7 1038.47"/>
<path d="M670 950.38L843.7 1048.76"/>
<path d="M670 954.2L843.7 1059.05"/>
<path d="M670 958.01L843.7 1069.34"/>
<path d="M670 889.35L843.7 894.4"/>
<path d="M670 961.83L843.7 1079.63"/>
<path d="M670 965.64L843.7 1079.63"/>
<path d="M670 969.46L843.7 1079.63"/>
<path d="M670 973.27L843.7 1079.63"/>
<path d="M670 977.09L843.7 1079.63"/>
<path d="M670 980.9L843.7 1089.92"/>
<path d="M670 984.72L843.7 1089.92"/>
<path d="M670 988.53L843.7 1089.92"/>
<path d="M670 992.34L843.7 1089.92"/>
<path d="M670 996.16L843.7 1089.92"/>
<path d="M670 999.97L843.7 1089.92"/>
<path d="M670 1003.79L843.7 1089.92"/>
<path d="M670 1007.6L843.7 1089.92"/>
<path d="M670 1011.42L843.7 1089.92"/>
<path d="M670 1015.23L843.7 1089.92"/>
<path d="M670 1019.05L843.7 1089.92"/>
<path d="M670 1022.86L843.7 1089.92"/>
<path d="M670 1026.68L843.7 1089.92"/>
<path d="M670 1030.49L843.7 1089.92"/>
<path d="M670 1034.31L843.7 1089.92"/>
<path d="M670 1038.12L843.7 1089.92"/>
<path d="M670 1041.94L843.7 1089.92"/>
<path d="M670 1045.75L843.7 1089.92"/>
<path d="M670 1049.57L843.7 1089.92"/>
<path d="M670 1053.38L843.7 1089.92"/>
<path d="M670 1057.19L843.7 1089.92"/>
<path d="M670 1061.01L843.7 1089.92"/>
<path d="M670 1064.82L843.7 1089.92"/>
<path d="M670 1068.64L843.7 1100.21"/>
<path d="M670 1072.45L843.7 1100.21"/>
<path d="M670 1076.27L843.7 1100.21"/>
<path d="M670 1080.08L843.7 1100.21"/>
<path d="M670 1083.9L843.7 1100.21"/>
<path d="M670 1087.71L843.7 1100.21"/>
<path d="M670 1091.53L843.7 1110.5"/>
<path d="M670 1095.34L843.7 1110.5"/>
<path d="M670 1099.16L843.7 1110.5"/>
<path d="M670 1102.97L843.7 1110.5"/>
<path d="M670 1106.79L843.7 1110.5"/>
<path d="M670 1110.6L843.7 1110.5"/>
<path d="M843.7 19.7L1016.8 19.7"/>
<path d="M843.7 19.7L1016.8 69.29"/>
<path d="M843.7 19.7L1016.8 912.34"/>
<path d="M843.7 19.7L1016.8 961.93"/>
<path d="M843.7 29.99L1016.8 69.29"/>
<path d="M843.7 29.99L1016.8 118.88"/>
<path d="M843.7 29.99L1016.8 912.34"/>
<path d="M843.7 29.99L1016.8 961.93"/>
<path d="M843.7 40.28L1016.8 416.43"/>
<path d="M843.7 50.57L1016.8 416.43"/>
<path d="M843.7 60.86L1016.8 416.43"/>
<path d="M843.7 71.15L1016.8 416.43"/>
<path d="M843.7 81.44L1016.8 416.43"/>
<path d="M843.7 91.73L1016.8 416.43"/>
<path d="M843.7 102.02L1016.8 416.43"/>
<path d="M843.7 112.32L1016.8 416.43"/>
<path d="M843.7 122.61L1016.8 416.43"/>
<path d="M843.7 132.9L1016.8 416.43"/>
<path d="M843.7 143.19L1016.8 416.43"/>
<path d="M843.7 153.48L1016.8 416.43"/>
<path d="M843.7 163.77L1016.8 416.43"/>
<path d="M843.7 174.06L1016.8 416.43"/>
<path d="M843.7 184.35L1016.8 416.43"/>
<path d="M843.7 194.64L1016.8 416.43"/>
<path d="M843.7 204.93L1016.8 416.43"/>
<path d="M843.7 215.22L1016.8 416.43"/>
<path d="M843.7 225.51L1016.8 416.43"/>
<path d="M843.7 235.8L1016.8 416.43"/>
<path d="M843.7 246.09L1016.8 416.43"/>
<path d="M843.7 256.38L1016.8 416.43"/>
<path d="M843.7 266.67L1016.8 416.43"/>
<path d="M843.7 276.96L1016.8 416.43"/>
<path d="M843.7 287.25L1016.8 416.43"/>
<path d="M843.7 297.55L1016.8 168.47"/>
<path d="M843.7 307.84L1016.8 218.06"/>
<path d="M843.7 318.13L1016.8 267.65"/>
<path d="M843.7 328.42L1016.8 317.25"/>
<path d="M843.7 338.71L1016.8 317.25"/>
<path d="M843.7 349L1016.8 366.84"/>
<path d="M843.7 349L1016.8 416.43"/>
<path d="M843.7 359.29L1016.8 366.84"/>
<path d="M843.7 359.29L1016.8 416.43"/>
<path d="M843.7 369.58L1016.8 366.84"/>
<path d="M843.7 369.58L1016.8 416.43"/>
<path d="M843.7 379.87L1016.8 366.84"/>
<path d="M843.7 379.87L1016.8 416.43"/>
<path d="M843.7 390.16L1016.8 366.84"/>
<path d="M843.7 390.16L1016.8 416.43"/>
<path d="M843.7 400.45L1016.8 366.84"/>
<path d="M843.7 400.45L1016.8 416.43"/>
<path d="M843.7 410.74L1016.8 366.84"/>
<path d="M843.7 410.74L1016.8 416.43"/>
<path d="M843.7 421.03L1016.8 366.84"/>
<path d="M843.7 421.03L1016.8 416.43"/>
<path d="M843.7 431.32L1016.8 366.84"/>
<path d="M843.7 431.32L1016.8 416.43"/>
<path d="M843.7 441.61L1016.8 366.84"/>
<path d="M843.7 441.61L1016.8 416.43"/>
<path d="M843.7 451.9L1016.8 366.84"/>
<path d="M843.7 451.9L1016.8 416.43"/>
<path d="M843.7 462.19L1016.8 366.84"/>
<path d="M843.7 462.19L1016.8 416.43"/>
<path d="M843.7 472.48L1016.8 366.84"/>
<path d="M843.7 472.48L1016.8 416.43"/>
<path d="M843.7 482.78L1016.8 366.84"/>
<path d="M843.7 482.78L1016.8 416.43"/>
<path d="M843.7 493.07L1016.8 366.84"/>
<path d="M843.7 493.07L1016.8 416.43"/>
<path d="M843.7 503.36L1016.8 366.84"/>
<path d="M843.7 503.36L1016.8 416.43"/>
<path d="M843.7 513.65L1016.8 366.84"/>
<path d="M843.7 513.65L1016.8 416.43"/>
<path d="M843.7 523.94L1016.8 366.84"/>
<path d="M843.7 523.94L1016.8 416.43"/>
<path d="M843.7 534.23L1016.8 366.84"/>
<path d="M843.7 534.23L1016.8 416.43"/>
<path d="M843.7 544.52L1016.8 366.84"/>
<path d="M843.7 544.52L1016.8 416.43"/>
<path d="M843.7 554.81L1016.8 366.84"/>
<path d="M843.7 554.81L1016.8 416.43"/>
<path d="M843.7 565.1L1016.8 366.84"/>
<path d="M843.7 565.1L1016.8 416.43"/>
<path d="M843.7 575.39L1016.8 366.84"/>
<path d="M843.7 575.39L1016.8 416.43"/>
<path d="M843.7 585.68L1016.8 366.84"/>
<path d="M843.7 585.68L1016.8 416.43"/>
<path d="M843.7 595.97L1016.8 366.84"/>
<path d="M843.7 595.97L1016.8 416.43"/>
<path d="M843.7 606.26L1016.8 366.84"/>
<path d="M843.7 606.26L1016.8 416.43"/>
<path d="M843.7 616.55L1016.8 366.84"/>
<path d="M843.7 616.55L1016.8 416.43"/>
<path d="M843.7 626.84L1016.8 366.84"/>
<path d="M843.7 626.84L1016.8 416.43"/>
<path d="M843.7 637.13L1016.8 366.84"/>
<path d="M843.7 637.13L1016.8 416.43"/>
<path d="M843.7 647.42L1016.8 366.84"/>
<path d="M843.7 647.42L1016.8 416.43"/>
<path d="M843.7 657.72L1016.8 366.84"/>
<path d="M843.7 657.72L1016.8 416.43"/>
<path d="M843.7 668.01L1016.8 366.84"/>
<path d="M843.7 668.01L1016.8 416.43"/>
<path d="M843.7 678.3L1016.8 366.84"/>
<path d="M843.7 678.3L1016.8 416.43"/>
<path d="M843.7 688.59L1016.8 366.84"/>
<path d="M843.7 688.59L1016.8 416.43"/>
<path d="M843.7 698.88L1016.8 366.84"/>
<path d="M843.7 698.88L1016.8 416.43"/>
<path d="M843.7 709.17L1016.8 366.84"/>
<path d="M843.7 709.17L1016.8 416.43"/>
<path d="M843.7 719.46L1016.8 366.84"/>
<path d="M843.7 719.46L1016.8 416.43"/>
<path d="M843.7 729.75L1016.8 366.84"/>
<path d="M843.7 729.75L1016.8 416.43"/>
<path d="M843.7 740.04L1016.8 366.84"/>
<path d="M843.7 740.04L1016.8 416.43"/>
<path d="M843.7 750.33L1016.8 366.84"/>
<path d="M843.7 750.33L1016.8 416.43"/>
<path d="M843.7 760.62L1016.8 366.84"/>
<path d="M843.7 760.62L1016.8 416.43"/>
<path d="M843.7 770.91L1016.8 366.84"/>
<path d="M843.7 770.91L1016.8 416.43"/>
<path d="M843.7 781.2L1016.8 366.84"/>
<path d="M843.7 781.2L1016.8 416.43"/>
<path d="M843.7 791.49L1016.8 366.84"/>
<path d="M843.7 791.49L1016.8 416.43"/>
<path d="M843.7 801.78L1016.8 466.02"/>
<path d="M843.7 812.07L1016.8 515.61"/>
<path d="M843.7 822.36L1016.8 565.2"/>
<path d="M843.7 832.65L1016.8 614.79"/>
<path d="M843.7 842.95L1016.8 664.38"/>
<path d="M843.7 853.24L1016.8 713.97"/>
<path d="M843.7 863.53L1016.8 763.56"/>
<path d="M843.7 863.53L1016.8 813.15"/>
<path d="M843.7 873.82L1016.8 763.56"/>
<path d="M843.7 873.82L1016.8 813.15"/>
<path d="M843.7 884.11L1016.8 763.56"/>
<path d="M843.7 884.11L1016.8 813.15"/>
<path d="M843.7 894.4L1016.8 862.75"/>
<path d="M843.7 904.69L1016.8 862.75"/>
<path d="M843.7 914.98L1016.8 862.75"/>
<path d="M843.7 925.27L1016.8 862.75"/>
<path d="M843.7 935.56L1016.8 862.75"/>
<path d="M843.7 945.85L1016.8 862.75"/>
<path d="M843.7 956.14L1016.8 862.75"/>
<path d="M843.7 966.43L1016.8 862.75"/>
<path d="M843.7 976.72L1016.8 862.75"/>
<path d="M843.7 987.01L1016.8 862.75"/>
<path d="M843.7 997.3L1016.8 862.75"/>
<path d="M843.7 1007.59L1016.8 862.75"/>
<path d="M843.7 1017.88L1016.8 862.75"/>
<path d="M843.7 1028.18L1016.8 862.75"/>
<path d="M843.7 1038.47L1016.8 862.75"/>
<path d="M843.7 1048.76L1016.8 862.75"/>
<path d="M843.7 1059.05L1016.8 862.75"/>
<path d="M843.7 1069.34L1016.8 862.75"/>
<path d="M843.7 1079.63L1016.8 862.75"/>
<path d="M843.7 1079.63L1016.8 912.34"/>
<path d="M843.7 1079.63L1016.8 961.93"/>
<path d="M843.7 1089.92L1016.8 1011.52"/>
<path d="M843.7 1100.21L1016.8 1061.11"/>
<path d="M843.7 1110.5L1016.8 1110.7"/>
<path d="M1016.8 19.7L1191 798.99"/>
<path d="M1016.8 19.7L1191 1110.7"/>
<path d="M1016.8 69.29L1191 798.99"/>
<path d="M1016.8 69.29L1191 1110.7"/>
<path d="M1016.8 118.88L1191 798.99"/>
<path d="M1016.8 118.88L1191 1110.7"/>
<path d="M1016.8 317.25L1191 19.7"/>
<path d="M1016.8 515.61L1191 175.56"/>
<path d="M1016.8 664.38L1191 1110.7"/>
<path d="M1016.8 763.56L1191 331.41"/>
<path d="M1016.8 763.56L1191 487.27"/>
<path d="M1016.8 813.15L1191 331.41"/>
<path d="M1016.8 813.15L1191 487.27"/>
<path d="M1016.8 862.75L1191 643.13"/>
<path d="M1016.8 862.75L1191 1110.7"/>
<path d="M1016.8 912.34L1191 798.99"/>
<path d="M1016.8 912.34L1191 1110.7"/>
<path d="M1016.8 961.93L1191 798.99"/>
<path d="M1016.8 961.93L1191 1110.7"/>
<path d="M1016.8 1061.11L1191 954.84"/>
<path d="M1016.8 1061.11L1191 1110.7"/>
</g>
</g>
<g>
<rect x="937" y="1476" width="238" height="117" rx="4" ry="4" fill="#fff" stroke="#262626" stroke-width="1.3"/>
<rect x="942" y="1481.5" width="45" height="19.5" fill="#1b9e77"/>
<rect x="942" y="1509.5" width="45" height="19.5" fill="#d95f02"/>
<rect x="942" y="1537.5" width="45" height="19.5" fill="#e7298a"/>
<rect x="942" y="1565.5" width="45" height="19.5" fill="#666666"/>
</g>
<g style="opacity:0.999">
<text x="58.1" y="1115.6" text-anchor="end" font-size="19.44">0</text>
<text x="58.1" y="1039.41" text-anchor="end" font-size="19.44">20</text>
<text x="58.1" y="963.23" text-anchor="end" font-size="19.44">40</text>
<text x="58.1" y="887.05" text-anchor="end" font-size="19.44">60</text>
<text x="58.1" y="810.87" text-anchor="end" font-size="19.44">80</text>
<text x="58.1" y="734.69" text-anchor="end" font-size="19.44">100</text>
<text x="58.1" y="658.51" text-anchor="end" font-size="19.44">120</text>
<text x="58.1" y="582.33" text-anchor="end" font-size="19.44">140</text>
<text x="58.1" y="506.15" text-anchor="end" font-size="19.44">160</text>
<text x="58.1" y="429.96" text-anchor="end" font-size="19.44">180</text>
<text x="58.1" y="353.78" text-anchor="end" font-size="19.44">200</text>
<text x="58.1" y="277.6" text-anchor="end" font-size="19.44">220</text>
<text x="58.1" y="201.42" text-anchor="end" font-size="19.44">240</text>
<text x="58.1" y="125.24" text-anchor="end" font-size="19.44">260</text>
<text x="58.1" y="49.06" text-anchor="end" font-size="19.44">280</text>
<text transform="translate(14.2 564.5) rotate(-90)" text-anchor="middle" font-size="19.05">Sea ice cores</text>
<text transform="translate(95.6 1150) rotate(-90)" text-anchor="end" font-size="19.44">date</text>
<text transform="translate(123.8 1150) rotate(-90)" text-anchor="end" font-size="19.44">coordinates</text>
<text transform="translate(152 1150) rotate(-90)" text-anchor="end" font-size="19.44">campaign</text>
<text transform="translate(180.2 1150) rotate(-90)" text-anchor="end" font-size="19.44">polar-region</text>
<text transform="translate(208.4 1150) rotate(-90)" text-anchor="end" font-size="19.44">water-body</text>
<text transform="translate(236.6 1150) rotate(-90)" text-anchor="end" font-size="19.44">form_sea-ice</text>
<text transform="translate(264.8 1150) rotate(-90)" text-anchor="end" font-size="19.44">development-stage_sea-ice</text>
<text transform="translate(293 1150) rotate(-90)" text-anchor="end" font-size="19.44">salinity_sea-ice</text>
<text transform="translate(321.2 1150) rotate(-90)" text-anchor="end" font-size="19.44">measurement-device-salinity_sea-ice</text>
<text transform="translate(349.4 1150) rotate(-90)" text-anchor="end" font-size="19.44">measurement-device-accuracy-salinity_sea-ice</text>
<text transform="translate(377.6 1150) rotate(-90)" text-anchor="end" font-size="19.44">temperature_air</text>
<text transform="translate(405.8 1150) rotate(-90)" text-anchor="end" font-size="19.44">measurement-device-temperature_air</text>
<text transform="translate(434 1150) rotate(-90)" text-anchor="end" font-size="19.44">measurement-device-accuracy-temperature_air</text>
<text transform="translate(462.2 1150) rotate(-90)" text-anchor="end" font-size="19.44">temperature_sea-ice</text>
<text transform="translate(490.4 1150) rotate(-90)" text-anchor="end" font-size="19.44">calculation-method-temperature_sea-ice</text>
<text transform="translate(518.6 1150) rotate(-90)" text-anchor="end" font-size="19.44">measurement-device-temperature_sea-ice</text>
<text transform="translate(546.8 1150) rotate(-90)" text-anchor="end" font-size="19.44">measurement-device-accuracy-temperature_sea-ice</text>
<text transform="translate(575 1150) rotate(-90)" text-anchor="end" font-size="19.44">freeboard_sea-ice</text>
<text transform="translate(603.2 1150) rotate(-90)" text-anchor="end" font-size="19.44">thickness_sea-ice</text>
<text transform="translate(631.4 1150) rotate(-90)" text-anchor="end" font-size="19.44">thickness_snow</text>
<text transform="translate(675.5 1150) rotate(-90)" text-anchor="end" font-size="19.44">Cores #287</text>
<text transform="translate(849.2 1150) rotate(-90)" text-anchor="end" font-size="19.44">Primary sources #107</text>
<text transform="translate(1022.3 1150) rotate(-90)" text-anchor="end" font-size="19.44">Secondary sources #23</text>
<text transform="translate(1196.5 1150) rotate(-90)" text-anchor="end" font-size="19.44">Tertiary sources #8</text>
<text x="1000" y="1498.2" font-size="19.44">Primary sources</text>
<text x="1000" y="1526.2" font-size="19.44">Secondary sources</text>
<text x="1000" y="1554.2" font-size="19.44">Tertiary sources</text>
<text x="1000" y="1582.2" font-size="19.44">Not available</text>
</g>
</svg>
</body></html>
